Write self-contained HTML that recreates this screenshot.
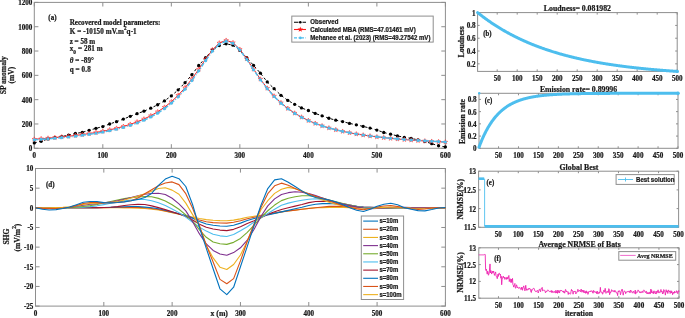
<!DOCTYPE html><html><head><meta charset="utf-8"><style>html,body{margin:0;padding:0;background:#fff;}text{-webkit-font-smoothing:antialiased;}svg{display:block;will-change:transform;}</style></head><body>
<svg width="685" height="318" viewBox="0 0 685 318">
<rect width="685" height="318" fill="#fff"/>
<rect x="34.3" y="2.4" width="411.1" height="145.9" fill="none" stroke="#8e8e8e" stroke-width="1"/>
<path d="M34.3 148.3v-4.1M34.3 2.4v4.1M102.82 148.3v-4.1M102.82 2.4v4.1M171.33 148.3v-4.1M171.33 2.4v4.1M239.85 148.3v-4.1M239.85 2.4v4.1M308.37 148.3v-4.1M308.37 2.4v4.1M376.88 148.3v-4.1M376.88 2.4v4.1M445.4 148.3v-4.1M445.4 2.4v4.1M34.3 148.3h4.1M445.4 148.3h-4.1M34.3 123.98h4.1M445.4 123.98h-4.1M34.3 99.67h4.1M445.4 99.67h-4.1M34.3 75.35h4.1M445.4 75.35h-4.1M34.3 51.03h4.1M445.4 51.03h-4.1M34.3 26.72h4.1M445.4 26.72h-4.1M34.3 2.4h4.1M445.4 2.4h-4.1" stroke="#8e8e8e" stroke-width="1" fill="none"/>
<text transform="translate(34.3 157.69) scale(1 1.08)" font-family='"Liberation Serif", serif' font-size="7.1" font-weight="bold" text-anchor="middle" fill="#1a1a1a" stroke="#1a1a1a" stroke-width="0.22">0</text>
<text transform="translate(102.82 157.69) scale(1 1.08)" font-family='"Liberation Serif", serif' font-size="7.1" font-weight="bold" text-anchor="middle" fill="#1a1a1a" stroke="#1a1a1a" stroke-width="0.22">100</text>
<text transform="translate(171.33 157.69) scale(1 1.08)" font-family='"Liberation Serif", serif' font-size="7.1" font-weight="bold" text-anchor="middle" fill="#1a1a1a" stroke="#1a1a1a" stroke-width="0.22">200</text>
<text transform="translate(239.85 157.69) scale(1 1.08)" font-family='"Liberation Serif", serif' font-size="7.1" font-weight="bold" text-anchor="middle" fill="#1a1a1a" stroke="#1a1a1a" stroke-width="0.22">300</text>
<text transform="translate(308.37 157.69) scale(1 1.08)" font-family='"Liberation Serif", serif' font-size="7.1" font-weight="bold" text-anchor="middle" fill="#1a1a1a" stroke="#1a1a1a" stroke-width="0.22">400</text>
<text transform="translate(376.88 157.69) scale(1 1.08)" font-family='"Liberation Serif", serif' font-size="7.1" font-weight="bold" text-anchor="middle" fill="#1a1a1a" stroke="#1a1a1a" stroke-width="0.22">500</text>
<text transform="translate(445.4 157.69) scale(1 1.08)" font-family='"Liberation Serif", serif' font-size="7.1" font-weight="bold" text-anchor="middle" fill="#1a1a1a" stroke="#1a1a1a" stroke-width="0.22">600</text>
<text transform="translate(32.4 151.29) scale(1 1.08)" font-family='"Liberation Serif", serif' font-size="7.1" font-weight="bold" text-anchor="end" fill="#1a1a1a" stroke="#1a1a1a" stroke-width="0.22">0</text>
<text transform="translate(32.4 126.98) scale(1 1.08)" font-family='"Liberation Serif", serif' font-size="7.1" font-weight="bold" text-anchor="end" fill="#1a1a1a" stroke="#1a1a1a" stroke-width="0.22">200</text>
<text transform="translate(32.4 102.66) scale(1 1.08)" font-family='"Liberation Serif", serif' font-size="7.1" font-weight="bold" text-anchor="end" fill="#1a1a1a" stroke="#1a1a1a" stroke-width="0.22">400</text>
<text transform="translate(32.4 78.34) scale(1 1.08)" font-family='"Liberation Serif", serif' font-size="7.1" font-weight="bold" text-anchor="end" fill="#1a1a1a" stroke="#1a1a1a" stroke-width="0.22">600</text>
<text transform="translate(32.4 54.03) scale(1 1.08)" font-family='"Liberation Serif", serif' font-size="7.1" font-weight="bold" text-anchor="end" fill="#1a1a1a" stroke="#1a1a1a" stroke-width="0.22">800</text>
<text transform="translate(32.4 29.71) scale(1 1.08)" font-family='"Liberation Serif", serif' font-size="7.1" font-weight="bold" text-anchor="end" fill="#1a1a1a" stroke="#1a1a1a" stroke-width="0.22">1000</text>
<text transform="translate(32.4 5.39) scale(1 1.08)" font-family='"Liberation Serif", serif' font-size="7.1" font-weight="bold" text-anchor="end" fill="#1a1a1a" stroke="#1a1a1a" stroke-width="0.22">1200</text>
<polyline points="34.3,142.95 41.15,141.25 48,138.94 54.85,137.6 61.71,136.63 68.56,135.05 75.41,133.47 82.26,132.37 89.11,130.31 95.96,128.36 102.82,126.54 109.67,123.98 116.52,121.67 123.37,119.12 130.22,116.32 137.07,113.65 143.93,111.22 150.78,108.18 157.63,104.77 164.48,100.88 171.33,95.9 178.19,89.82 185.04,82.65 191.89,74.74 198.74,65.5 205.59,57.72 212.44,49.94 219.29,45.56 226.15,43.86 233,45.2 239.85,50.43 246.7,57.72 253.55,65.38 260.4,73.16 267.26,81.92 274.11,88.72 280.96,95.29 287.81,100.4 294.66,104.29 301.51,107.93 308.37,110.49 315.22,113.41 322.07,115.84 328.92,118.27 335.77,120.21 342.62,121.55 349.48,123.38 356.33,124.83 363.18,126.42 370.03,128.12 376.88,130.06 383.73,132.49 390.59,134.2 397.44,135.9 404.29,137.36 411.14,138.33 417.99,139.91 424.84,141.49 431.7,143.68 438.55,145.75 445.4,146.96" fill="none" stroke="#000" stroke-width="1" stroke-dasharray="2.5 2.5"/>
<g fill="#000"><circle cx="34.3" cy="142.95" r="1.65"/><circle cx="41.15" cy="141.25" r="1.65"/><circle cx="48" cy="138.94" r="1.65"/><circle cx="54.85" cy="137.6" r="1.65"/><circle cx="61.71" cy="136.63" r="1.65"/><circle cx="68.56" cy="135.05" r="1.65"/><circle cx="75.41" cy="133.47" r="1.65"/><circle cx="82.26" cy="132.37" r="1.65"/><circle cx="89.11" cy="130.31" r="1.65"/><circle cx="95.96" cy="128.36" r="1.65"/><circle cx="102.82" cy="126.54" r="1.65"/><circle cx="109.67" cy="123.98" r="1.65"/><circle cx="116.52" cy="121.67" r="1.65"/><circle cx="123.37" cy="119.12" r="1.65"/><circle cx="130.22" cy="116.32" r="1.65"/><circle cx="137.07" cy="113.65" r="1.65"/><circle cx="143.93" cy="111.22" r="1.65"/><circle cx="150.78" cy="108.18" r="1.65"/><circle cx="157.63" cy="104.77" r="1.65"/><circle cx="164.48" cy="100.88" r="1.65"/><circle cx="171.33" cy="95.9" r="1.65"/><circle cx="178.19" cy="89.82" r="1.65"/><circle cx="185.04" cy="82.65" r="1.65"/><circle cx="191.89" cy="74.74" r="1.65"/><circle cx="198.74" cy="65.5" r="1.65"/><circle cx="205.59" cy="57.72" r="1.65"/><circle cx="212.44" cy="49.94" r="1.65"/><circle cx="219.29" cy="45.56" r="1.65"/><circle cx="226.15" cy="43.86" r="1.65"/><circle cx="233" cy="45.2" r="1.65"/><circle cx="239.85" cy="50.43" r="1.65"/><circle cx="246.7" cy="57.72" r="1.65"/><circle cx="253.55" cy="65.38" r="1.65"/><circle cx="260.4" cy="73.16" r="1.65"/><circle cx="267.26" cy="81.92" r="1.65"/><circle cx="274.11" cy="88.72" r="1.65"/><circle cx="280.96" cy="95.29" r="1.65"/><circle cx="287.81" cy="100.4" r="1.65"/><circle cx="294.66" cy="104.29" r="1.65"/><circle cx="301.51" cy="107.93" r="1.65"/><circle cx="308.37" cy="110.49" r="1.65"/><circle cx="315.22" cy="113.41" r="1.65"/><circle cx="322.07" cy="115.84" r="1.65"/><circle cx="328.92" cy="118.27" r="1.65"/><circle cx="335.77" cy="120.21" r="1.65"/><circle cx="342.62" cy="121.55" r="1.65"/><circle cx="349.48" cy="123.38" r="1.65"/><circle cx="356.33" cy="124.83" r="1.65"/><circle cx="363.18" cy="126.42" r="1.65"/><circle cx="370.03" cy="128.12" r="1.65"/><circle cx="376.88" cy="130.06" r="1.65"/><circle cx="383.73" cy="132.49" r="1.65"/><circle cx="390.59" cy="134.2" r="1.65"/><circle cx="397.44" cy="135.9" r="1.65"/><circle cx="404.29" cy="137.36" r="1.65"/><circle cx="411.14" cy="138.33" r="1.65"/><circle cx="417.99" cy="139.91" r="1.65"/><circle cx="424.84" cy="141.49" r="1.65"/><circle cx="431.7" cy="143.68" r="1.65"/><circle cx="438.55" cy="145.75" r="1.65"/><circle cx="445.4" cy="146.96" r="1.65"/></g>
<polyline points="34.3,139.23 41.15,138.74 48,138.2 54.85,137.61 61.71,136.97 68.56,136.25 75.41,135.46 82.26,134.58 89.11,133.6 95.96,132.5 102.82,131.26 109.67,129.86 116.52,128.26 123.37,126.43 130.22,124.33 137.07,121.9 143.93,119.06 150.78,115.75 157.63,111.84 164.48,107.23 171.33,101.77 178.19,95.3 185.04,87.72 191.89,78.98 198.74,69.28 205.59,59.19 212.44,49.86 219.29,43.01 226.15,40.34 233,42.67 239.85,49.37 246.7,58.79 253.55,69.14 260.4,79.18 267.26,88.23 274.11,96.09 280.96,102.77 287.81,108.41 294.66,113.14 301.51,117.13 308.37,120.51 315.22,123.38 322.07,125.83 328.92,127.95 335.77,129.77 342.62,131.37 349.48,132.76 356.33,133.99 363.18,135.08 370.03,136.04 376.88,136.9 383.73,137.67 390.59,138.37 397.44,139 404.29,139.57 411.14,140.08 417.99,140.56 424.84,140.99 431.7,141.38 438.55,141.75 445.4,142.08" fill="none" stroke="#ff1a1a" stroke-width="1"/>
<g fill="none" stroke="#ff3030" stroke-width="0.6"><polygon points="34.3,136.83 34.86,138.45 36.58,138.49 35.21,139.53 35.71,141.17 34.3,140.19 32.89,141.17 33.39,139.53 32.02,138.49 33.74,138.45"/><polygon points="41.15,136.34 41.72,137.96 43.43,138 42.06,139.04 42.56,140.68 41.15,139.7 39.74,140.68 40.24,139.04 38.87,138 40.59,137.96"/><polygon points="48,135.8 48.57,137.43 50.29,137.46 48.92,138.5 49.41,140.15 48,139.16 46.59,140.15 47.09,138.5 45.72,137.46 47.44,137.43"/><polygon points="54.85,135.21 55.42,136.84 57.14,136.87 55.77,137.91 56.27,139.56 54.85,138.57 53.44,139.56 53.94,137.91 52.57,136.87 54.29,136.84"/><polygon points="61.71,134.57 62.27,136.19 63.99,136.23 62.62,137.26 63.12,138.91 61.71,137.93 60.3,138.91 60.79,137.26 59.42,136.23 61.14,136.19"/><polygon points="68.56,133.85 69.12,135.48 70.84,135.51 69.47,136.55 69.97,138.19 68.56,137.21 67.15,138.19 67.65,136.55 66.28,135.51 67.99,135.48"/><polygon points="75.41,133.06 75.97,134.69 77.69,134.72 76.32,135.76 76.82,137.4 75.41,136.42 74,137.4 74.5,135.76 73.13,134.72 74.85,134.69"/><polygon points="82.26,132.18 82.83,133.81 84.54,133.84 83.17,134.88 83.67,136.52 82.26,135.54 80.85,136.52 81.35,134.88 79.98,133.84 81.7,133.81"/><polygon points="89.11,131.2 89.68,132.82 91.4,132.86 90.03,133.9 90.52,135.54 89.11,134.56 87.7,135.54 88.2,133.9 86.83,132.86 88.55,132.82"/><polygon points="95.96,130.1 96.53,131.72 98.25,131.76 96.88,132.8 97.38,134.44 95.96,133.46 94.55,134.44 95.05,132.8 93.68,131.76 95.4,131.72"/><polygon points="102.82,128.86 103.38,130.48 105.1,130.52 103.73,131.56 104.23,133.2 102.82,132.22 101.41,133.2 101.9,131.56 100.53,130.52 102.25,130.48"/><polygon points="109.67,127.46 110.23,129.08 111.95,129.11 110.58,130.15 111.08,131.8 109.67,130.82 108.26,131.8 108.76,130.15 107.39,129.11 109.1,129.08"/><polygon points="116.52,125.86 117.08,127.48 118.8,127.52 117.43,128.55 117.93,130.2 116.52,129.22 115.11,130.2 115.61,128.55 114.24,127.52 115.96,127.48"/><polygon points="123.37,124.03 123.94,125.65 125.65,125.69 124.28,126.73 124.78,128.37 123.37,127.39 121.96,128.37 122.46,126.73 121.09,125.69 122.81,125.65"/><polygon points="130.22,121.93 130.79,123.55 132.51,123.59 131.14,124.63 131.63,126.27 130.22,125.29 128.81,126.27 129.31,124.63 127.94,123.59 129.66,123.55"/><polygon points="137.07,119.5 137.64,121.12 139.36,121.15 137.99,122.19 138.49,123.84 137.07,122.86 135.66,123.84 136.16,122.19 134.79,121.15 136.51,121.12"/><polygon points="143.93,116.66 144.49,118.29 146.21,118.32 144.84,119.36 145.34,121.01 143.93,120.02 142.52,121.01 143.01,119.36 141.64,118.32 143.36,118.29"/><polygon points="150.78,113.35 151.34,114.97 153.06,115.01 151.69,116.04 152.19,117.69 150.78,116.71 149.37,117.69 149.87,116.04 148.5,115.01 150.21,114.97"/><polygon points="157.63,109.44 158.19,111.07 159.91,111.1 158.54,112.14 159.04,113.79 157.63,112.8 156.22,113.79 156.72,112.14 155.35,111.1 157.07,111.07"/><polygon points="164.48,104.83 165.05,106.45 166.76,106.49 165.39,107.53 165.89,109.17 164.48,108.19 163.07,109.17 163.57,107.53 162.2,106.49 163.92,106.45"/><polygon points="171.33,99.37 171.9,100.99 173.62,101.02 172.25,102.06 172.74,103.71 171.33,102.73 169.92,103.71 170.42,102.06 169.05,101.02 170.77,100.99"/><polygon points="178.19,92.9 178.75,94.53 180.47,94.56 179.1,95.6 179.6,97.24 178.19,96.26 176.77,97.24 177.27,95.6 175.9,94.56 177.62,94.53"/><polygon points="185.04,85.32 185.6,86.94 187.32,86.98 185.95,88.02 186.45,89.66 185.04,88.68 183.63,89.66 184.12,88.02 182.75,86.98 184.47,86.94"/><polygon points="191.89,76.58 192.45,78.21 194.17,78.24 192.8,79.28 193.3,80.93 191.89,79.94 190.48,80.93 190.98,79.28 189.61,78.24 191.32,78.21"/><polygon points="198.74,66.88 199.3,68.5 201.02,68.54 199.65,69.58 200.15,71.22 198.74,70.24 197.33,71.22 197.83,69.58 196.46,68.54 198.18,68.5"/><polygon points="205.59,56.79 206.16,58.41 207.87,58.44 206.5,59.48 207,61.13 205.59,60.15 204.18,61.13 204.68,59.48 203.31,58.44 205.03,58.41"/><polygon points="212.44,47.46 213.01,49.09 214.73,49.12 213.36,50.16 213.85,51.81 212.44,50.82 211.03,51.81 211.53,50.16 210.16,49.12 211.88,49.09"/><polygon points="219.29,40.61 219.86,42.24 221.58,42.27 220.21,43.31 220.71,44.95 219.29,43.97 217.88,44.95 218.38,43.31 217.01,42.27 218.73,42.24"/><polygon points="226.15,37.94 226.71,39.57 228.43,39.6 227.06,40.64 227.56,42.29 226.15,41.3 224.74,42.29 225.23,40.64 223.86,39.6 225.58,39.57"/><polygon points="233,40.27 233.56,41.9 235.28,41.93 233.91,42.97 234.41,44.62 233,43.63 231.59,44.62 232.09,42.97 230.72,41.93 232.43,41.9"/><polygon points="239.85,46.97 240.41,48.6 242.13,48.63 240.76,49.67 241.26,51.32 239.85,50.33 238.44,51.32 238.94,49.67 237.57,48.63 239.29,48.6"/><polygon points="246.7,56.39 247.27,58.01 248.98,58.05 247.61,59.08 248.11,60.73 246.7,59.75 245.29,60.73 245.79,59.08 244.42,58.05 246.14,58.01"/><polygon points="253.55,66.74 254.12,68.37 255.84,68.4 254.47,69.44 254.96,71.09 253.55,70.1 252.14,71.09 252.64,69.44 251.27,68.4 252.99,68.37"/><polygon points="260.4,76.78 260.97,78.4 262.69,78.44 261.32,79.48 261.82,81.12 260.4,80.14 258.99,81.12 259.49,79.48 258.12,78.44 259.84,78.4"/><polygon points="267.26,85.83 267.82,87.46 269.54,87.49 268.17,88.53 268.67,90.18 267.26,89.19 265.85,90.18 266.34,88.53 264.97,87.49 266.69,87.46"/><polygon points="274.11,93.69 274.67,95.32 276.39,95.35 275.02,96.39 275.52,98.03 274.11,97.05 272.7,98.03 273.2,96.39 271.83,95.35 273.54,95.32"/><polygon points="280.96,100.37 281.52,102 283.24,102.03 281.87,103.07 282.37,104.72 280.96,103.73 279.55,104.72 280.05,103.07 278.68,102.03 280.4,102"/><polygon points="287.81,106.01 288.38,107.63 290.09,107.66 288.72,108.7 289.22,110.35 287.81,109.37 286.4,110.35 286.9,108.7 285.53,107.66 287.25,107.63"/><polygon points="294.66,110.74 295.23,112.36 296.95,112.4 295.58,113.44 296.07,115.08 294.66,114.1 293.25,115.08 293.75,113.44 292.38,112.4 294.1,112.36"/><polygon points="301.51,114.73 302.08,116.35 303.8,116.39 302.43,117.43 302.93,119.07 301.51,118.09 300.1,119.07 300.6,117.43 299.23,116.39 300.95,116.35"/><polygon points="308.37,118.11 308.93,119.73 310.65,119.77 309.28,120.8 309.78,122.45 308.37,121.47 306.96,122.45 307.45,120.8 306.08,119.77 307.8,119.73"/><polygon points="315.22,120.98 315.78,122.6 317.5,122.64 316.13,123.67 316.63,125.32 315.22,124.34 313.81,125.32 314.31,123.67 312.94,122.64 314.65,122.6"/><polygon points="322.07,123.43 322.63,125.06 324.35,125.09 322.98,126.13 323.48,127.77 322.07,126.79 320.66,127.77 321.16,126.13 319.79,125.09 321.51,125.06"/><polygon points="328.92,125.55 329.49,127.17 331.2,127.2 329.83,128.24 330.33,129.89 328.92,128.91 327.51,129.89 328.01,128.24 326.64,127.2 328.36,127.17"/><polygon points="335.77,127.37 336.34,129 338.06,129.03 336.69,130.07 337.18,131.72 335.77,130.73 334.36,131.72 334.86,130.07 333.49,129.03 335.21,129"/><polygon points="342.62,128.97 343.19,130.59 344.91,130.63 343.54,131.66 344.04,133.31 342.62,132.33 341.21,133.31 341.71,131.66 340.34,130.63 342.06,130.59"/><polygon points="349.48,130.36 350.04,131.99 351.76,132.02 350.39,133.06 350.89,134.7 349.48,133.72 348.07,134.7 348.56,133.06 347.19,132.02 348.91,131.99"/><polygon points="356.33,131.59 356.89,133.21 358.61,133.25 357.24,134.29 357.74,135.93 356.33,134.95 354.92,135.93 355.42,134.29 354.05,133.25 355.76,133.21"/><polygon points="363.18,132.68 363.74,134.3 365.46,134.33 364.09,135.37 364.59,137.02 363.18,136.04 361.77,137.02 362.27,135.37 360.9,134.33 362.62,134.3"/><polygon points="370.03,133.64 370.6,135.26 372.31,135.3 370.94,136.34 371.44,137.98 370.03,137 368.62,137.98 369.12,136.34 367.75,135.3 369.47,135.26"/><polygon points="376.88,134.5 377.45,136.13 379.17,136.16 377.8,137.2 378.29,138.84 376.88,137.86 375.47,138.84 375.97,137.2 374.6,136.16 376.32,136.13"/><polygon points="383.73,135.27 384.3,136.9 386.02,136.93 384.65,137.97 385.15,139.62 383.73,138.63 382.32,139.62 382.82,137.97 381.45,136.93 383.17,136.9"/><polygon points="390.59,135.97 391.15,137.59 392.87,137.63 391.5,138.67 392,140.31 390.59,139.33 389.18,140.31 389.67,138.67 388.3,137.63 390.02,137.59"/><polygon points="397.44,136.6 398,138.22 399.72,138.26 398.35,139.29 398.85,140.94 397.44,139.96 396.03,140.94 396.53,139.29 395.16,138.26 396.87,138.22"/><polygon points="404.29,137.17 404.85,138.79 406.57,138.83 405.2,139.86 405.7,141.51 404.29,140.53 402.88,141.51 403.38,139.86 402.01,138.83 403.73,138.79"/><polygon points="411.14,137.68 411.71,139.31 413.42,139.34 412.05,140.38 412.55,142.03 411.14,141.04 409.73,142.03 410.23,140.38 408.86,139.34 410.58,139.31"/><polygon points="417.99,138.16 418.56,139.78 420.28,139.81 418.91,140.85 419.4,142.5 417.99,141.52 416.58,142.5 417.08,140.85 415.71,139.81 417.43,139.78"/><polygon points="424.84,138.59 425.41,140.21 427.13,140.25 425.76,141.28 426.26,142.93 424.84,141.95 423.43,142.93 423.93,141.28 422.56,140.25 424.28,140.21"/><polygon points="431.7,138.98 432.26,140.61 433.98,140.64 432.61,141.68 433.11,143.33 431.7,142.34 430.29,143.33 430.78,141.68 429.41,140.64 431.13,140.61"/><polygon points="438.55,139.35 439.11,140.97 440.83,141.01 439.46,142.05 439.96,143.69 438.55,142.71 437.14,143.69 437.64,142.05 436.27,141.01 437.98,140.97"/><polygon points="445.4,139.68 445.96,141.31 447.68,141.34 446.31,142.38 446.81,144.03 445.4,143.04 443.99,144.03 444.49,142.38 443.12,141.34 444.84,141.31"/></g>
<polyline points="34.3,139.81 41.15,139.33 48,138.82 54.85,138.25 61.71,137.63 68.56,136.94 75.41,136.17 82.26,135.32 89.11,134.37 95.96,133.31 102.82,132.11 109.67,130.74 116.52,129.19 123.37,127.42 130.22,125.37 137.07,123 143.93,120.23 150.78,116.99 157.63,113.16 164.48,108.63 171.33,103.24 178.19,96.85 185.04,89.32 191.89,80.6 198.74,70.85 205.59,60.64 212.44,51.12 219.29,44.04 226.15,41.17 233,43.37 239.85,50.02 246.7,59.42 253.55,69.75 260.4,79.75 267.26,88.75 274.11,96.54 280.96,103.15 287.81,108.71 294.66,113.38 301.51,117.32 308.37,120.65 315.22,123.48 322.07,125.89 328.92,127.98 335.77,129.78 342.62,131.35 349.48,132.72 356.33,133.93 363.18,135 370.03,135.95 376.88,136.8 383.73,137.57 390.59,138.25 397.44,138.87 404.29,139.44 411.14,139.95 417.99,140.41 424.84,140.84 431.7,141.23 438.55,141.6 445.4,141.93" fill="none" stroke="#4dbeee" stroke-width="1.5" stroke-dasharray="4 1.5 1 1.5"/>
<g fill="#4dbeee"><circle cx="34.3" cy="139.81" r="1.55"/><circle cx="41.15" cy="139.33" r="1.55"/><circle cx="48" cy="138.82" r="1.55"/><circle cx="54.85" cy="138.25" r="1.55"/><circle cx="61.71" cy="137.63" r="1.55"/><circle cx="68.56" cy="136.94" r="1.55"/><circle cx="75.41" cy="136.17" r="1.55"/><circle cx="82.26" cy="135.32" r="1.55"/><circle cx="89.11" cy="134.37" r="1.55"/><circle cx="95.96" cy="133.31" r="1.55"/><circle cx="102.82" cy="132.11" r="1.55"/><circle cx="109.67" cy="130.74" r="1.55"/><circle cx="116.52" cy="129.19" r="1.55"/><circle cx="123.37" cy="127.42" r="1.55"/><circle cx="130.22" cy="125.37" r="1.55"/><circle cx="137.07" cy="123" r="1.55"/><circle cx="143.93" cy="120.23" r="1.55"/><circle cx="150.78" cy="116.99" r="1.55"/><circle cx="157.63" cy="113.16" r="1.55"/><circle cx="164.48" cy="108.63" r="1.55"/><circle cx="171.33" cy="103.24" r="1.55"/><circle cx="178.19" cy="96.85" r="1.55"/><circle cx="185.04" cy="89.32" r="1.55"/><circle cx="191.89" cy="80.6" r="1.55"/><circle cx="198.74" cy="70.85" r="1.55"/><circle cx="205.59" cy="60.64" r="1.55"/><circle cx="212.44" cy="51.12" r="1.55"/><circle cx="219.29" cy="44.04" r="1.55"/><circle cx="226.15" cy="41.17" r="1.55"/><circle cx="233" cy="43.37" r="1.55"/><circle cx="239.85" cy="50.02" r="1.55"/><circle cx="246.7" cy="59.42" r="1.55"/><circle cx="253.55" cy="69.75" r="1.55"/><circle cx="260.4" cy="79.75" r="1.55"/><circle cx="267.26" cy="88.75" r="1.55"/><circle cx="274.11" cy="96.54" r="1.55"/><circle cx="280.96" cy="103.15" r="1.55"/><circle cx="287.81" cy="108.71" r="1.55"/><circle cx="294.66" cy="113.38" r="1.55"/><circle cx="301.51" cy="117.32" r="1.55"/><circle cx="308.37" cy="120.65" r="1.55"/><circle cx="315.22" cy="123.48" r="1.55"/><circle cx="322.07" cy="125.89" r="1.55"/><circle cx="328.92" cy="127.98" r="1.55"/><circle cx="335.77" cy="129.78" r="1.55"/><circle cx="342.62" cy="131.35" r="1.55"/><circle cx="349.48" cy="132.72" r="1.55"/><circle cx="356.33" cy="133.93" r="1.55"/><circle cx="363.18" cy="135" r="1.55"/><circle cx="370.03" cy="135.95" r="1.55"/><circle cx="376.88" cy="136.8" r="1.55"/><circle cx="383.73" cy="137.57" r="1.55"/><circle cx="390.59" cy="138.25" r="1.55"/><circle cx="397.44" cy="138.87" r="1.55"/><circle cx="404.29" cy="139.44" r="1.55"/><circle cx="411.14" cy="139.95" r="1.55"/><circle cx="417.99" cy="140.41" r="1.55"/><circle cx="424.84" cy="140.84" r="1.55"/><circle cx="431.7" cy="141.23" r="1.55"/><circle cx="438.55" cy="141.6" r="1.55"/><circle cx="445.4" cy="141.93" r="1.55"/></g>
<text transform="translate(48.3 20.3) scale(1 1.06)" font-family='"Liberation Serif", serif' font-size="7.1" font-weight="bold" text-anchor="start" fill="#1a1a1a" stroke="#1a1a1a" stroke-width="0.22">(a)</text>
<text transform="translate(69.7 24.6) scale(1 1.06)" font-family='"Liberation Serif", serif' font-size="7.1" font-weight="bold" text-anchor="start" fill="#1a1a1a" stroke="#1a1a1a" stroke-width="0.22">Recovered model parameters:</text>
<text transform="translate(69.7 33.8) scale(1 1.06)" font-family='"Liberation Serif", serif' font-size="7.1" font-weight="bold" text-anchor="start" fill="#1a1a1a" stroke="#1a1a1a" stroke-width="0.22" letter-spacing="0.1">K = -10150 mV.m<tspan font-size="5.2" dy="-3.3">2</tspan><tspan dy="3.3">q-1</tspan></text>
<text transform="translate(69.7 44) scale(1 1.06)" font-family='"Liberation Serif", serif' font-size="7.1" font-weight="bold" text-anchor="start" fill="#1a1a1a" stroke="#1a1a1a" stroke-width="0.22">z = 58 m</text>
<text transform="translate(69.7 51.3) scale(1 1.06)" font-family='"Liberation Serif", serif' font-size="7.1" font-weight="bold" text-anchor="start" fill="#1a1a1a" stroke="#1a1a1a" stroke-width="0.22" letter-spacing="0.1">x<tspan font-size="5.4" dy="2.6">0</tspan><tspan dy="-2.6"> = 281 m</tspan></text>
<text transform="translate(69.7 62.8) scale(1 1.06)" font-family='"Liberation Serif", serif' font-size="7.1" font-weight="bold" text-anchor="start" fill="#1a1a1a" stroke="#1a1a1a" stroke-width="0.22" letter-spacing="0.1"><tspan font-style="italic">θ</tspan> = -89°</text>
<text transform="translate(69.7 71.5) scale(1 1.06)" font-family='"Liberation Serif", serif' font-size="7.1" font-weight="bold" text-anchor="start" fill="#1a1a1a" stroke="#1a1a1a" stroke-width="0.22" letter-spacing="0.1">q = 0.8</text>
<rect x="291.8" y="16.1" width="141.4" height="26" fill="#fff" stroke="#8e8e8e" stroke-width="1"/>
<path d="M294 22.2h4.5M302.5 22.2h3.5" stroke="#000" stroke-width="1.1"/>
<circle cx="300.3" cy="22.2" r="1.3" fill="#000"/>
<path d="M294 29.5h12" stroke="#ff1a1a" stroke-width="1.1"/>
<g fill="#ff1a1a"><polygon points="300.3,26.6 300.98,28.56 303.06,28.6 301.4,29.86 302,31.85 300.3,30.66 298.6,31.85 299.2,29.86 297.54,28.6 299.62,28.56"/></g>
<path d="M294 37.9h12" stroke="#4dbeee" stroke-width="1.1" stroke-dasharray="3 1.5 1 1.5"/>
<circle cx="300.3" cy="37.9" r="1.3" fill="#4dbeee"/>
<text transform="translate(310.3 24.4) scale(1 1.06)" font-family='"Liberation Sans", sans-serif' font-size="6.1" font-weight="bold" text-anchor="start" fill="#1a1a1a" stroke="#1a1a1a" stroke-width="0.22">Observed</text>
<text transform="translate(310.3 31.7) scale(1 1.06)" font-family='"Liberation Sans", sans-serif' font-size="6.1" font-weight="bold" text-anchor="start" fill="#1a1a1a" stroke="#1a1a1a" stroke-width="0.22">Calculated MBA (RMS=47.01461 mV)</text>
<text transform="translate(310.3 40.1) scale(1 1.06)" font-family='"Liberation Sans", sans-serif' font-size="6.1" font-weight="bold" text-anchor="start" fill="#1a1a1a" stroke="#1a1a1a" stroke-width="0.22">Mehanee et al. (2023) (RMS=49.27542 mV)</text>
<text transform="translate(6.4 75.2) rotate(-90) scale(1 1.08)" font-family='"Liberation Serif", serif' font-size="7.6" font-weight="bold" text-anchor="middle" fill="#1a1a1a" stroke="#1a1a1a" stroke-width="0.22">SP anomaly</text>
<text transform="translate(13.6 75.2) rotate(-90) scale(1 1.08)" font-family='"Liberation Serif", serif' font-size="7.6" font-weight="bold" text-anchor="middle" fill="#1a1a1a" stroke="#1a1a1a" stroke-width="0.22">(mV)</text>
<rect x="35.5" y="168.5" width="409.9" height="137.6" fill="none" stroke="#8e8e8e" stroke-width="1"/>
<path d="M35.5 306.1v-4.1M35.5 168.5v4.1M103.82 306.1v-4.1M103.82 168.5v4.1M172.13 306.1v-4.1M172.13 168.5v4.1M240.45 306.1v-4.1M240.45 168.5v4.1M308.77 306.1v-4.1M308.77 168.5v4.1M377.08 306.1v-4.1M377.08 168.5v4.1M445.4 306.1v-4.1M445.4 168.5v4.1M35.5 306.1h4.1M445.4 306.1h-4.1M35.5 286.44h4.1M445.4 286.44h-4.1M35.5 266.79h4.1M445.4 266.79h-4.1M35.5 247.13h4.1M445.4 247.13h-4.1M35.5 227.47h4.1M445.4 227.47h-4.1M35.5 207.81h4.1M445.4 207.81h-4.1M35.5 188.16h4.1M445.4 188.16h-4.1M35.5 168.5h4.1M445.4 168.5h-4.1" stroke="#8e8e8e" stroke-width="1" fill="none"/>
<text transform="translate(35.5 315.89) scale(1 1.08)" font-family='"Liberation Serif", serif' font-size="7.1" font-weight="bold" text-anchor="middle" fill="#1a1a1a" stroke="#1a1a1a" stroke-width="0.22">0</text>
<text transform="translate(103.82 315.89) scale(1 1.08)" font-family='"Liberation Serif", serif' font-size="7.1" font-weight="bold" text-anchor="middle" fill="#1a1a1a" stroke="#1a1a1a" stroke-width="0.22">100</text>
<text transform="translate(172.13 315.89) scale(1 1.08)" font-family='"Liberation Serif", serif' font-size="7.1" font-weight="bold" text-anchor="middle" fill="#1a1a1a" stroke="#1a1a1a" stroke-width="0.22">200</text>
<text transform="translate(240.45 315.89) scale(1 1.08)" font-family='"Liberation Serif", serif' font-size="7.1" font-weight="bold" text-anchor="middle" fill="#1a1a1a" stroke="#1a1a1a" stroke-width="0.22">300</text>
<text transform="translate(308.77 315.89) scale(1 1.08)" font-family='"Liberation Serif", serif' font-size="7.1" font-weight="bold" text-anchor="middle" fill="#1a1a1a" stroke="#1a1a1a" stroke-width="0.22">400</text>
<text transform="translate(377.08 315.89) scale(1 1.08)" font-family='"Liberation Serif", serif' font-size="7.1" font-weight="bold" text-anchor="middle" fill="#1a1a1a" stroke="#1a1a1a" stroke-width="0.22">500</text>
<text transform="translate(445.4 315.89) scale(1 1.08)" font-family='"Liberation Serif", serif' font-size="7.1" font-weight="bold" text-anchor="middle" fill="#1a1a1a" stroke="#1a1a1a" stroke-width="0.22">600</text>
<text transform="translate(33.4 309.09) scale(1 1.08)" font-family='"Liberation Serif", serif' font-size="7.1" font-weight="bold" text-anchor="end" fill="#1a1a1a" stroke="#1a1a1a" stroke-width="0.22">-25</text>
<text transform="translate(33.4 289.43) scale(1 1.08)" font-family='"Liberation Serif", serif' font-size="7.1" font-weight="bold" text-anchor="end" fill="#1a1a1a" stroke="#1a1a1a" stroke-width="0.22">-20</text>
<text transform="translate(33.4 269.78) scale(1 1.08)" font-family='"Liberation Serif", serif' font-size="7.1" font-weight="bold" text-anchor="end" fill="#1a1a1a" stroke="#1a1a1a" stroke-width="0.22">-15</text>
<text transform="translate(33.4 250.12) scale(1 1.08)" font-family='"Liberation Serif", serif' font-size="7.1" font-weight="bold" text-anchor="end" fill="#1a1a1a" stroke="#1a1a1a" stroke-width="0.22">-10</text>
<text transform="translate(33.4 230.46) scale(1 1.08)" font-family='"Liberation Serif", serif' font-size="7.1" font-weight="bold" text-anchor="end" fill="#1a1a1a" stroke="#1a1a1a" stroke-width="0.22">-5</text>
<text transform="translate(33.4 210.81) scale(1 1.08)" font-family='"Liberation Serif", serif' font-size="7.1" font-weight="bold" text-anchor="end" fill="#1a1a1a" stroke="#1a1a1a" stroke-width="0.22">0</text>
<text transform="translate(33.4 191.15) scale(1 1.08)" font-family='"Liberation Serif", serif' font-size="7.1" font-weight="bold" text-anchor="end" fill="#1a1a1a" stroke="#1a1a1a" stroke-width="0.22">5</text>
<text transform="translate(33.4 171.49) scale(1 1.08)" font-family='"Liberation Serif", serif' font-size="7.1" font-weight="bold" text-anchor="end" fill="#1a1a1a" stroke="#1a1a1a" stroke-width="0.22">10</text>
<text transform="translate(219.2 316.4) scale(1 1.06)" font-family='"Liberation Serif", serif' font-size="7.8" font-weight="bold" text-anchor="middle" fill="#1a1a1a" stroke="#1a1a1a" stroke-width="0.22">x (m)</text>
<text transform="translate(9.2 236.6) rotate(-90) scale(1 1.08)" font-family='"Liberation Serif", serif' font-size="7.6" font-weight="bold" text-anchor="middle" fill="#1a1a1a" stroke="#1a1a1a" stroke-width="0.22">SHG</text>
<text transform="translate(20 237.6) rotate(-90) scale(1 1.08)" font-family='"Liberation Serif", serif' font-size="7.6" font-weight="bold" text-anchor="middle" fill="#1a1a1a" stroke="#1a1a1a" stroke-width="0.22">(mV/m<tspan font-size="5.4" dy="-3.3">2</tspan><tspan dy="3.3">)</tspan></text>
<text transform="translate(46 187) scale(1 1.06)" font-family='"Liberation Serif", serif' font-size="7.1" font-weight="bold" text-anchor="start" fill="#1a1a1a" stroke="#1a1a1a" stroke-width="0.22">(d)</text>
<g stroke-width="1.1" fill="none" stroke-linejoin="round">
<polyline points="35.5,207.81 42.33,207.81 49.16,207.81 56,207.81 62.83,207.81 69.66,207.81 76.49,207.81 83.32,207.81 90.15,207.81 96.98,207.81 103.82,207.81 110.65,207.81 117.48,207.81 124.31,207.87 131.14,208.01 137.97,208.21 144.81,208.57 151.64,209.19 158.47,209.99 165.3,211.24 172.13,212.83 178.96,214.3 185.8,215.79 192.63,217.03 199.46,218.44 206.29,219.61 213.12,220.25 219.95,220.61 226.79,220.79 233.62,220.15 240.45,218.85 247.28,217.26 254.11,216.18 260.94,215.18 267.78,214.23 274.61,213.11 281.44,211.85 288.27,210.91 295.1,210.1 301.94,209.3 308.77,208.36 315.6,207.79 322.43,207.6 329.26,207.47 336.09,207.42 342.92,207.48 349.76,207.62 356.59,207.75 363.42,207.81 370.25,207.81 377.08,207.81 383.91,207.81 390.75,207.81 397.58,207.81 404.41,207.81 411.24,207.81 418.07,207.81 424.9,207.81 431.74,207.81 438.57,207.81 445.4,207.81" fill="none" stroke="#edb120"/>
<polyline points="35.5,207.81 42.33,207.81 49.16,207.81 56,207.81 62.83,207.81 69.66,207.81 76.49,207.81 83.32,207.81 90.15,207.81 96.98,207.75 103.82,207.62 110.65,207.48 117.48,207.42 124.31,207.42 131.14,207.42 137.97,207.42 144.81,207.75 151.64,208.56 158.47,209.57 165.3,210.87 172.13,212.43 178.96,213.85 185.8,215.66 192.63,217.74 199.46,220.05 206.29,221.73 213.12,222.59 219.95,222.98 226.79,223.15 233.62,222.29 240.45,220.66 247.28,218.71 254.11,217.19 260.94,215.75 267.78,214.37 274.61,213.06 281.44,211.85 288.27,210.91 295.1,210.1 301.94,209.31 308.77,208.49 315.6,207.74 322.43,206.96 329.26,206.34 336.09,206.26 342.92,206.42 349.76,206.63 356.59,207.04 363.42,207.56 370.25,207.81 377.08,207.81 383.91,207.81 390.75,207.81 397.58,207.81 404.41,207.81 411.24,207.81 418.07,207.81 424.9,207.81 431.74,207.81 438.57,207.81 445.4,207.81" fill="none" stroke="#d95319"/>
<polyline points="35.5,207.81 42.33,207.81 49.16,207.81 56,207.81 62.83,207.81 69.66,207.81 76.49,207.81 83.32,207.81 90.15,207.81 96.98,207.73 103.82,207.53 110.65,207.27 117.48,207.03 124.31,206.74 131.14,206.48 137.97,206.53 144.81,207.09 151.64,207.79 158.47,208.76 165.3,210.27 172.13,212.09 178.96,213.78 185.8,215.64 192.63,218.14 199.46,221.42 206.29,223.95 213.12,225.22 219.95,225.94 226.79,226.29 233.62,225.23 240.45,223.12 247.28,220.52 254.11,218.57 260.94,216.72 267.78,214.93 274.61,213.34 281.44,211.9 288.27,210.37 295.1,208.82 301.94,207.26 308.77,205.47 315.6,204.2 322.43,203.59 329.26,203.57 336.09,204.04 342.92,204.67 349.76,205.47 356.59,206.4 363.42,207.03 370.25,207.33 377.08,207.58 383.91,207.75 390.75,207.81 397.58,207.81 404.41,207.81 411.24,207.81 418.07,207.81 424.9,207.81 431.74,207.81 438.57,207.81 445.4,207.81" fill="none" stroke="#0072bd"/>
<polyline points="35.5,207.81 42.33,207.81 49.16,207.81 56,207.81 62.83,207.81 69.66,207.81 76.49,207.81 83.32,207.79 90.15,207.71 96.98,207.62 103.82,207.49 110.65,207.28 117.48,206.62 124.31,205.47 131.14,204.78 137.97,204.35 144.81,204.53 151.64,205.85 158.47,207.62 165.3,209.64 172.13,211.78 178.96,213.92 185.8,216.61 192.63,220.06 199.46,224.19 206.29,227.34 213.12,229.04 219.95,230.08 226.79,230.62 233.62,229.35 240.45,226.78 247.28,223.44 254.11,220.65 260.94,217.64 267.78,214.35 274.61,211.7 281.44,209.58 288.27,207.75 295.1,206.11 301.94,204.5 308.77,202.61 315.6,201.48 322.43,201.18 329.26,201.33 336.09,202.53 342.92,203.88 349.76,205.1 356.59,206.3 363.42,207.03 370.25,207.34 377.08,207.59 383.91,207.76 390.75,207.81 397.58,207.81 404.41,207.81 411.24,207.81 418.07,207.81 424.9,207.81 431.74,207.81 438.57,207.81 445.4,207.81" fill="none" stroke="#a2142f"/>
<polyline points="35.5,207.81 42.33,207.81 49.16,207.81 56,207.81 62.83,207.81 69.66,207.72 76.49,207.46 83.32,207.09 90.15,206.63 96.98,205.83 103.82,204.6 110.65,203.33 117.48,202.13 124.31,200.9 131.14,199.95 137.97,199.29 144.81,199.45 151.64,200.78 158.47,202.82 165.3,205.55 172.13,208.9 178.96,212.64 185.8,217.11 192.63,222.19 199.46,227.1 206.29,231.11 213.12,234.27 219.95,235.83 226.79,236.51 233.62,234.56 240.45,230.78 247.28,226.71 254.11,222.07 260.94,217.71 267.78,213.43 274.61,209.19 281.44,205.32 288.27,203.11 295.1,201.45 301.94,200.24 308.77,199.21 315.6,198.78 322.43,199.52 329.26,200.74 336.09,202.11 342.92,203.69 349.76,205.06 356.59,206.27 363.42,207.35 370.25,207.81 377.08,207.81 383.91,207.81 390.75,207.81 397.58,207.81 404.41,207.81 411.24,207.81 418.07,207.81 424.9,207.81 431.74,207.81 438.57,207.81 445.4,207.81" fill="none" stroke="#4dbeee"/>
<polyline points="35.5,207.81 42.33,207.81 49.16,207.81 56,207.81 62.83,207.81 69.66,207.62 76.49,207.13 83.32,206.43 90.15,205.65 96.98,204.54 103.82,203.02 110.65,201.49 117.48,200.06 124.31,198.62 131.14,197.59 137.97,196.93 144.81,196.48 151.64,196.7 158.47,198.38 165.3,200.96 172.13,204.67 178.96,209.27 185.8,214.88 192.63,221.1 199.46,229.8 206.29,237.28 213.12,241.98 219.95,243.72 226.79,244.38 233.62,242.35 240.45,238.46 247.28,232.41 254.11,225.08 260.94,217.58 267.78,210.76 274.61,205.08 281.44,200.63 288.27,198.29 295.1,196.81 301.94,195.81 308.77,195.76 315.6,196.5 322.43,198.05 329.26,199.95 336.09,201.74 342.92,203.54 349.76,205.06 356.59,206.45 363.42,207.68 370.25,208.21 377.08,208.15 383.91,208.01 390.75,207.88 397.58,207.81 404.41,207.81 411.24,207.81 418.07,207.81 424.9,207.81 431.74,207.81 438.57,207.81 445.4,207.81" fill="none" stroke="#77ac30"/>
<polyline points="35.5,207.81 42.33,207.8 49.16,207.76 56,207.7 62.83,207.62 69.66,207.19 76.49,206.29 83.32,205.22 90.15,204.28 96.98,203.58 103.82,202.92 110.65,202.11 117.48,200.89 124.31,199.24 131.14,197.59 137.97,195.88 144.81,194.28 151.64,193.53 158.47,193.27 165.3,194.51 172.13,198.22 178.96,203.83 185.8,210.84 192.63,221.65 199.46,233.91 206.29,243.96 213.12,250.39 219.95,253.96 226.79,255.32 233.62,252.59 240.45,247.77 247.28,240.21 254.11,229.25 260.94,216.46 267.78,205.85 274.61,198.89 281.44,194.47 288.27,192.66 295.1,191.73 301.94,192.26 308.77,193.63 315.6,195.63 322.43,198 329.26,200.34 336.09,202.27 342.92,204 349.76,205.46 356.59,206.85 363.42,208.07 370.25,208.6 377.08,208.42 383.91,208.01 390.75,207.61 397.58,207.42 404.41,207.42 411.24,207.43 418.07,207.45 424.9,207.49 431.74,207.56 438.57,207.67 445.4,207.81" fill="none" stroke="#7e2f8e"/>
<polyline points="35.5,207.81 42.33,207.79 49.16,207.71 56,207.58 62.83,207.42 69.66,206.81 76.49,205.63 83.32,204.37 90.15,203.49 96.98,203.09 103.82,202.81 110.65,202.42 117.48,201.56 124.31,200 131.14,198.05 137.97,196.02 144.81,193.81 151.64,191.23 158.47,188.55 165.3,187.76 172.13,190.12 178.96,194.27 185.8,203.1 192.63,214.6 199.46,226.04 206.29,245.57 213.12,257.94 219.95,267.15 226.79,269.54 233.62,264.55 240.45,254.95 247.28,241.12 254.11,225.53 260.94,209.78 267.78,200.74 274.61,193.37 281.44,189.22 288.27,187.37 295.1,188.67 301.94,190.98 308.77,194.05 315.6,197.13 322.43,199.95 329.26,202.24 336.09,204.24 342.92,205.85 349.76,207.27 356.59,208.48 363.42,208.99 370.25,208.69 377.08,208.01 383.91,207.34 390.75,207.03 397.58,207.21 404.41,207.62 411.24,208.02 418.07,208.21 424.9,208.2 431.74,208.16 438.57,208.04 445.4,207.81" fill="none" stroke="#edb120"/>
<polyline points="35.5,207.81 42.33,208.36 49.16,208.59 56,208.48 62.83,208.07 69.66,207.32 76.49,205.46 83.32,203.45 90.15,202.51 96.98,202.55 103.82,202.64 110.65,202.7 117.48,202.51 124.31,201.8 131.14,200.74 137.97,198.08 144.81,193.8 151.64,189.74 158.47,185.71 165.3,183.07 172.13,181.9 178.96,184.62 185.8,193.66 192.63,208.31 199.46,226 206.29,245.16 213.12,262.07 219.95,279.37 226.79,283.69 233.62,278.58 240.45,260.89 247.28,241.23 254.11,223.74 260.94,207.48 267.78,193.66 274.61,185.8 281.44,183.14 288.27,185.28 295.1,188.45 301.94,191.49 308.77,193.94 315.6,196.25 322.43,198.5 329.26,200.74 336.09,203.21 342.92,205.63 349.76,207.48 356.59,208.87 363.42,209.77 370.25,208.57 377.08,207.03 383.91,206 390.75,205.46 397.58,206.42 404.41,207.81 411.24,208.73 418.07,209.34 424.9,209.01 431.74,208.02 438.57,207.81 445.4,207.81" fill="none" stroke="#d95319"/>
<polyline points="35.5,207.81 42.33,209.19 49.16,209.98 56,209.66 62.83,208.58 69.66,206.97 76.49,204.67 83.32,202.25 90.15,201.45 96.98,201.57 103.82,202.65 110.65,202.84 117.48,202.5 124.31,201.91 131.14,200.81 137.97,199.41 144.81,197.47 151.64,193.41 158.47,185.41 165.3,179.08 172.13,176.21 178.96,178.72 185.8,186.51 192.63,204.77 199.46,227.62 206.29,248.31 213.12,268.75 219.95,288.8 226.79,294.7 233.62,287.23 240.45,266.79 247.28,246.34 254.11,225.27 260.94,205.25 267.78,188.55 274.61,179.9 281.44,178.72 288.27,182.26 295.1,186.58 301.94,190.9 308.77,194.92 315.6,197.53 322.43,198.74 329.26,199.94 336.09,202.04 342.92,204.67 349.76,207.67 356.59,210.2 363.42,211.52 370.25,209.21 377.08,206.24 383.91,204.33 390.75,203.23 397.58,204.81 404.41,207.64 411.24,209.3 418.07,210.62 424.9,210.86 431.74,209.58 438.57,208.07 445.4,207.5" fill="none" stroke="#0072bd"/>
</g>
<rect x="361.3" y="216.0" width="42.3" height="83.5" fill="#fff" stroke="#8e8e8e" stroke-width="1"/>
<path d="M363.2 221.1h14.8" stroke="#0072bd" stroke-width="1.1"/>
<text transform="translate(379.4 223.3) scale(1 1.06)" font-family='"Liberation Sans", sans-serif' font-size="6.0" font-weight="bold" text-anchor="start" fill="#1a1a1a" stroke="#1a1a1a" stroke-width="0.22">s=10m</text>
<path d="M363.2 229.27h14.8" stroke="#d95319" stroke-width="1.1"/>
<text transform="translate(379.4 231.47) scale(1 1.06)" font-family='"Liberation Sans", sans-serif' font-size="6.0" font-weight="bold" text-anchor="start" fill="#1a1a1a" stroke="#1a1a1a" stroke-width="0.22">s=20m</text>
<path d="M363.2 237.44h14.8" stroke="#edb120" stroke-width="1.1"/>
<text transform="translate(379.4 239.64) scale(1 1.06)" font-family='"Liberation Sans", sans-serif' font-size="6.0" font-weight="bold" text-anchor="start" fill="#1a1a1a" stroke="#1a1a1a" stroke-width="0.22">s=30m</text>
<path d="M363.2 245.61h14.8" stroke="#7e2f8e" stroke-width="1.1"/>
<text transform="translate(379.4 247.81) scale(1 1.06)" font-family='"Liberation Sans", sans-serif' font-size="6.0" font-weight="bold" text-anchor="start" fill="#1a1a1a" stroke="#1a1a1a" stroke-width="0.22">s=40m</text>
<path d="M363.2 253.78h14.8" stroke="#77ac30" stroke-width="1.1"/>
<text transform="translate(379.4 255.98) scale(1 1.06)" font-family='"Liberation Sans", sans-serif' font-size="6.0" font-weight="bold" text-anchor="start" fill="#1a1a1a" stroke="#1a1a1a" stroke-width="0.22">s=50m</text>
<path d="M363.2 261.95h14.8" stroke="#4dbeee" stroke-width="1.1"/>
<text transform="translate(379.4 264.15) scale(1 1.06)" font-family='"Liberation Sans", sans-serif' font-size="6.0" font-weight="bold" text-anchor="start" fill="#1a1a1a" stroke="#1a1a1a" stroke-width="0.22">s=60m</text>
<path d="M363.2 270.12h14.8" stroke="#a2142f" stroke-width="1.1"/>
<text transform="translate(379.4 272.32) scale(1 1.06)" font-family='"Liberation Sans", sans-serif' font-size="6.0" font-weight="bold" text-anchor="start" fill="#1a1a1a" stroke="#1a1a1a" stroke-width="0.22">s=70m</text>
<path d="M363.2 278.29h14.8" stroke="#0072bd" stroke-width="1.1"/>
<text transform="translate(379.4 280.49) scale(1 1.06)" font-family='"Liberation Sans", sans-serif' font-size="6.0" font-weight="bold" text-anchor="start" fill="#1a1a1a" stroke="#1a1a1a" stroke-width="0.22">s=80m</text>
<path d="M363.2 286.46h14.8" stroke="#d95319" stroke-width="1.1"/>
<text transform="translate(379.4 288.66) scale(1 1.06)" font-family='"Liberation Sans", sans-serif' font-size="6.0" font-weight="bold" text-anchor="start" fill="#1a1a1a" stroke="#1a1a1a" stroke-width="0.22">s=90m</text>
<path d="M363.2 294.63h14.8" stroke="#edb120" stroke-width="1.1"/>
<text transform="translate(379.4 296.83) scale(1 1.06)" font-family='"Liberation Sans", sans-serif' font-size="6.0" font-weight="bold" text-anchor="start" fill="#1a1a1a" stroke="#1a1a1a" stroke-width="0.22">s=100m</text>
<rect x="477.6" y="12.6" width="199.6" height="58.8" fill="none" stroke="#8e8e8e" stroke-width="1"/>
<path d="M497.2 71.4v-2M497.2 12.6v2M517.2 71.4v-2M517.2 12.6v2M537.2 71.4v-2M537.2 12.6v2M557.2 71.4v-2M557.2 12.6v2M577.2 71.4v-2M577.2 12.6v2M597.2 71.4v-2M597.2 12.6v2M617.2 71.4v-2M617.2 12.6v2M637.2 71.4v-2M637.2 12.6v2M657.2 71.4v-2M657.2 12.6v2M677.2 71.4v-2M677.2 12.6v2M477.6 63.84h2M677.2 63.84h-2M477.6 51.03h2M677.2 51.03h-2M477.6 38.22h2M677.2 38.22h-2M477.6 25.41h2M677.2 25.41h-2M477.6 12.6h2M677.2 12.6h-2" stroke="#8e8e8e" stroke-width="1" fill="none"/>
<text transform="translate(497.2 80.99) scale(1 1.08)" font-family='"Liberation Serif", serif' font-size="7.1" font-weight="bold" text-anchor="middle" fill="#1a1a1a" stroke="#1a1a1a" stroke-width="0.22">50</text>
<text transform="translate(517.2 80.99) scale(1 1.08)" font-family='"Liberation Serif", serif' font-size="7.1" font-weight="bold" text-anchor="middle" fill="#1a1a1a" stroke="#1a1a1a" stroke-width="0.22">100</text>
<text transform="translate(537.2 80.99) scale(1 1.08)" font-family='"Liberation Serif", serif' font-size="7.1" font-weight="bold" text-anchor="middle" fill="#1a1a1a" stroke="#1a1a1a" stroke-width="0.22">150</text>
<text transform="translate(557.2 80.99) scale(1 1.08)" font-family='"Liberation Serif", serif' font-size="7.1" font-weight="bold" text-anchor="middle" fill="#1a1a1a" stroke="#1a1a1a" stroke-width="0.22">200</text>
<text transform="translate(577.2 80.99) scale(1 1.08)" font-family='"Liberation Serif", serif' font-size="7.1" font-weight="bold" text-anchor="middle" fill="#1a1a1a" stroke="#1a1a1a" stroke-width="0.22">250</text>
<text transform="translate(597.2 80.99) scale(1 1.08)" font-family='"Liberation Serif", serif' font-size="7.1" font-weight="bold" text-anchor="middle" fill="#1a1a1a" stroke="#1a1a1a" stroke-width="0.22">300</text>
<text transform="translate(617.2 80.99) scale(1 1.08)" font-family='"Liberation Serif", serif' font-size="7.1" font-weight="bold" text-anchor="middle" fill="#1a1a1a" stroke="#1a1a1a" stroke-width="0.22">350</text>
<text transform="translate(637.2 80.99) scale(1 1.08)" font-family='"Liberation Serif", serif' font-size="7.1" font-weight="bold" text-anchor="middle" fill="#1a1a1a" stroke="#1a1a1a" stroke-width="0.22">400</text>
<text transform="translate(657.2 80.99) scale(1 1.08)" font-family='"Liberation Serif", serif' font-size="7.1" font-weight="bold" text-anchor="middle" fill="#1a1a1a" stroke="#1a1a1a" stroke-width="0.22">450</text>
<text transform="translate(677.2 80.99) scale(1 1.08)" font-family='"Liberation Serif", serif' font-size="7.1" font-weight="bold" text-anchor="middle" fill="#1a1a1a" stroke="#1a1a1a" stroke-width="0.22">500</text>
<text transform="translate(475.6 66.83) scale(1 1.08)" font-family='"Liberation Serif", serif' font-size="7.1" font-weight="bold" text-anchor="end" fill="#1a1a1a" stroke="#1a1a1a" stroke-width="0.22">0.2</text>
<text transform="translate(475.6 54.02) scale(1 1.08)" font-family='"Liberation Serif", serif' font-size="7.1" font-weight="bold" text-anchor="end" fill="#1a1a1a" stroke="#1a1a1a" stroke-width="0.22">0.4</text>
<text transform="translate(475.6 41.21) scale(1 1.08)" font-family='"Liberation Serif", serif' font-size="7.1" font-weight="bold" text-anchor="end" fill="#1a1a1a" stroke="#1a1a1a" stroke-width="0.22">0.6</text>
<text transform="translate(475.6 28.4) scale(1 1.08)" font-family='"Liberation Serif", serif' font-size="7.1" font-weight="bold" text-anchor="end" fill="#1a1a1a" stroke="#1a1a1a" stroke-width="0.22">0.8</text>
<text transform="translate(475.6 15.59) scale(1 1.08)" font-family='"Liberation Serif", serif' font-size="7.1" font-weight="bold" text-anchor="end" fill="#1a1a1a" stroke="#1a1a1a" stroke-width="0.22">1</text>
<rect x="479" y="93.3" width="199" height="55" fill="none" stroke="#8e8e8e" stroke-width="1"/>
<path d="M498.54 148.3v-2M498.54 93.3v2M518.48 148.3v-2M518.48 93.3v2M538.42 148.3v-2M538.42 93.3v2M558.36 148.3v-2M558.36 93.3v2M578.3 148.3v-2M578.3 93.3v2M598.24 148.3v-2M598.24 93.3v2M618.18 148.3v-2M618.18 93.3v2M638.12 148.3v-2M638.12 93.3v2M658.06 148.3v-2M658.06 93.3v2M678 148.3v-2M678 93.3v2M479 148.3h2M678 148.3h-2M479 136.08h2M678 136.08h-2M479 123.86h2M678 123.86h-2M479 111.63h2M678 111.63h-2M479 99.41h2M678 99.41h-2" stroke="#8e8e8e" stroke-width="1" fill="none"/>
<text transform="translate(498.54 157.69) scale(1 1.08)" font-family='"Liberation Serif", serif' font-size="7.1" font-weight="bold" text-anchor="middle" fill="#1a1a1a" stroke="#1a1a1a" stroke-width="0.22">50</text>
<text transform="translate(518.48 157.69) scale(1 1.08)" font-family='"Liberation Serif", serif' font-size="7.1" font-weight="bold" text-anchor="middle" fill="#1a1a1a" stroke="#1a1a1a" stroke-width="0.22">100</text>
<text transform="translate(538.42 157.69) scale(1 1.08)" font-family='"Liberation Serif", serif' font-size="7.1" font-weight="bold" text-anchor="middle" fill="#1a1a1a" stroke="#1a1a1a" stroke-width="0.22">150</text>
<text transform="translate(558.36 157.69) scale(1 1.08)" font-family='"Liberation Serif", serif' font-size="7.1" font-weight="bold" text-anchor="middle" fill="#1a1a1a" stroke="#1a1a1a" stroke-width="0.22">200</text>
<text transform="translate(578.3 157.69) scale(1 1.08)" font-family='"Liberation Serif", serif' font-size="7.1" font-weight="bold" text-anchor="middle" fill="#1a1a1a" stroke="#1a1a1a" stroke-width="0.22">250</text>
<text transform="translate(598.24 157.69) scale(1 1.08)" font-family='"Liberation Serif", serif' font-size="7.1" font-weight="bold" text-anchor="middle" fill="#1a1a1a" stroke="#1a1a1a" stroke-width="0.22">300</text>
<text transform="translate(618.18 157.69) scale(1 1.08)" font-family='"Liberation Serif", serif' font-size="7.1" font-weight="bold" text-anchor="middle" fill="#1a1a1a" stroke="#1a1a1a" stroke-width="0.22">350</text>
<text transform="translate(638.12 157.69) scale(1 1.08)" font-family='"Liberation Serif", serif' font-size="7.1" font-weight="bold" text-anchor="middle" fill="#1a1a1a" stroke="#1a1a1a" stroke-width="0.22">400</text>
<text transform="translate(658.06 157.69) scale(1 1.08)" font-family='"Liberation Serif", serif' font-size="7.1" font-weight="bold" text-anchor="middle" fill="#1a1a1a" stroke="#1a1a1a" stroke-width="0.22">450</text>
<text transform="translate(678 157.69) scale(1 1.08)" font-family='"Liberation Serif", serif' font-size="7.1" font-weight="bold" text-anchor="middle" fill="#1a1a1a" stroke="#1a1a1a" stroke-width="0.22">500</text>
<text transform="translate(476.6 151.29) scale(1 1.08)" font-family='"Liberation Serif", serif' font-size="7.1" font-weight="bold" text-anchor="end" fill="#1a1a1a" stroke="#1a1a1a" stroke-width="0.22">0</text>
<text transform="translate(476.6 139.07) scale(1 1.08)" font-family='"Liberation Serif", serif' font-size="7.1" font-weight="bold" text-anchor="end" fill="#1a1a1a" stroke="#1a1a1a" stroke-width="0.22">0.2</text>
<text transform="translate(476.6 126.85) scale(1 1.08)" font-family='"Liberation Serif", serif' font-size="7.1" font-weight="bold" text-anchor="end" fill="#1a1a1a" stroke="#1a1a1a" stroke-width="0.22">0.4</text>
<text transform="translate(476.6 114.63) scale(1 1.08)" font-family='"Liberation Serif", serif' font-size="7.1" font-weight="bold" text-anchor="end" fill="#1a1a1a" stroke="#1a1a1a" stroke-width="0.22">0.6</text>
<text transform="translate(476.6 102.4) scale(1 1.08)" font-family='"Liberation Serif", serif' font-size="7.1" font-weight="bold" text-anchor="end" fill="#1a1a1a" stroke="#1a1a1a" stroke-width="0.22">0.8</text>
<rect x="478.6" y="171.2" width="200" height="56.1" fill="none" stroke="#8e8e8e" stroke-width="1"/>
<path d="M498.24 227.3v-2M498.24 171.2v2M518.28 227.3v-2M518.28 171.2v2M538.32 227.3v-2M538.32 171.2v2M558.36 227.3v-2M558.36 171.2v2M578.4 227.3v-2M578.4 171.2v2M598.44 227.3v-2M598.44 171.2v2M618.48 227.3v-2M618.48 171.2v2M638.52 227.3v-2M638.52 171.2v2M658.56 227.3v-2M658.56 171.2v2M678.6 227.3v-2M678.6 171.2v2M478.6 227.3h2M678.6 227.3h-2M478.6 208.6h2M678.6 208.6h-2M478.6 189.9h2M678.6 189.9h-2M478.6 171.2h2M678.6 171.2h-2" stroke="#8e8e8e" stroke-width="1" fill="none"/>
<text transform="translate(498.24 236.99) scale(1 1.08)" font-family='"Liberation Serif", serif' font-size="7.1" font-weight="bold" text-anchor="middle" fill="#1a1a1a" stroke="#1a1a1a" stroke-width="0.22">50</text>
<text transform="translate(518.28 236.99) scale(1 1.08)" font-family='"Liberation Serif", serif' font-size="7.1" font-weight="bold" text-anchor="middle" fill="#1a1a1a" stroke="#1a1a1a" stroke-width="0.22">100</text>
<text transform="translate(538.32 236.99) scale(1 1.08)" font-family='"Liberation Serif", serif' font-size="7.1" font-weight="bold" text-anchor="middle" fill="#1a1a1a" stroke="#1a1a1a" stroke-width="0.22">150</text>
<text transform="translate(558.36 236.99) scale(1 1.08)" font-family='"Liberation Serif", serif' font-size="7.1" font-weight="bold" text-anchor="middle" fill="#1a1a1a" stroke="#1a1a1a" stroke-width="0.22">200</text>
<text transform="translate(578.4 236.99) scale(1 1.08)" font-family='"Liberation Serif", serif' font-size="7.1" font-weight="bold" text-anchor="middle" fill="#1a1a1a" stroke="#1a1a1a" stroke-width="0.22">250</text>
<text transform="translate(598.44 236.99) scale(1 1.08)" font-family='"Liberation Serif", serif' font-size="7.1" font-weight="bold" text-anchor="middle" fill="#1a1a1a" stroke="#1a1a1a" stroke-width="0.22">300</text>
<text transform="translate(618.48 236.99) scale(1 1.08)" font-family='"Liberation Serif", serif' font-size="7.1" font-weight="bold" text-anchor="middle" fill="#1a1a1a" stroke="#1a1a1a" stroke-width="0.22">350</text>
<text transform="translate(638.52 236.99) scale(1 1.08)" font-family='"Liberation Serif", serif' font-size="7.1" font-weight="bold" text-anchor="middle" fill="#1a1a1a" stroke="#1a1a1a" stroke-width="0.22">400</text>
<text transform="translate(658.56 236.99) scale(1 1.08)" font-family='"Liberation Serif", serif' font-size="7.1" font-weight="bold" text-anchor="middle" fill="#1a1a1a" stroke="#1a1a1a" stroke-width="0.22">450</text>
<text transform="translate(678.6 236.99) scale(1 1.08)" font-family='"Liberation Serif", serif' font-size="7.1" font-weight="bold" text-anchor="middle" fill="#1a1a1a" stroke="#1a1a1a" stroke-width="0.22">500</text>
<text transform="translate(476 230.29) scale(1 1.08)" font-family='"Liberation Serif", serif' font-size="7.1" font-weight="bold" text-anchor="end" fill="#1a1a1a" stroke="#1a1a1a" stroke-width="0.22">11.5</text>
<text transform="translate(476 211.59) scale(1 1.08)" font-family='"Liberation Serif", serif' font-size="7.1" font-weight="bold" text-anchor="end" fill="#1a1a1a" stroke="#1a1a1a" stroke-width="0.22">12</text>
<text transform="translate(476 192.89) scale(1 1.08)" font-family='"Liberation Serif", serif' font-size="7.1" font-weight="bold" text-anchor="end" fill="#1a1a1a" stroke="#1a1a1a" stroke-width="0.22">12.5</text>
<text transform="translate(476 174.19) scale(1 1.08)" font-family='"Liberation Serif", serif' font-size="7.1" font-weight="bold" text-anchor="end" fill="#1a1a1a" stroke="#1a1a1a" stroke-width="0.22">13</text>
<rect x="478.8" y="247.8" width="200.2" height="50.4" fill="none" stroke="#8e8e8e" stroke-width="1"/>
<path d="M498.46 298.2v-2M498.46 247.8v2M518.52 298.2v-2M518.52 247.8v2M538.58 298.2v-2M538.58 247.8v2M558.64 298.2v-2M558.64 247.8v2M578.7 298.2v-2M578.7 247.8v2M598.76 298.2v-2M598.76 247.8v2M618.82 298.2v-2M618.82 247.8v2M638.88 298.2v-2M638.88 247.8v2M658.94 298.2v-2M658.94 247.8v2M679 298.2v-2M679 247.8v2M478.8 298.2h2M679 298.2h-2M478.8 281.4h2M679 281.4h-2M478.8 264.6h2M679 264.6h-2M478.8 247.8h2M679 247.8h-2" stroke="#8e8e8e" stroke-width="1" fill="none"/>
<text transform="translate(498.46 307.89) scale(1 1.08)" font-family='"Liberation Serif", serif' font-size="7.1" font-weight="bold" text-anchor="middle" fill="#1a1a1a" stroke="#1a1a1a" stroke-width="0.22">50</text>
<text transform="translate(518.52 307.89) scale(1 1.08)" font-family='"Liberation Serif", serif' font-size="7.1" font-weight="bold" text-anchor="middle" fill="#1a1a1a" stroke="#1a1a1a" stroke-width="0.22">100</text>
<text transform="translate(538.58 307.89) scale(1 1.08)" font-family='"Liberation Serif", serif' font-size="7.1" font-weight="bold" text-anchor="middle" fill="#1a1a1a" stroke="#1a1a1a" stroke-width="0.22">150</text>
<text transform="translate(558.64 307.89) scale(1 1.08)" font-family='"Liberation Serif", serif' font-size="7.1" font-weight="bold" text-anchor="middle" fill="#1a1a1a" stroke="#1a1a1a" stroke-width="0.22">200</text>
<text transform="translate(578.7 307.89) scale(1 1.08)" font-family='"Liberation Serif", serif' font-size="7.1" font-weight="bold" text-anchor="middle" fill="#1a1a1a" stroke="#1a1a1a" stroke-width="0.22">250</text>
<text transform="translate(598.76 307.89) scale(1 1.08)" font-family='"Liberation Serif", serif' font-size="7.1" font-weight="bold" text-anchor="middle" fill="#1a1a1a" stroke="#1a1a1a" stroke-width="0.22">300</text>
<text transform="translate(618.82 307.89) scale(1 1.08)" font-family='"Liberation Serif", serif' font-size="7.1" font-weight="bold" text-anchor="middle" fill="#1a1a1a" stroke="#1a1a1a" stroke-width="0.22">350</text>
<text transform="translate(638.88 307.89) scale(1 1.08)" font-family='"Liberation Serif", serif' font-size="7.1" font-weight="bold" text-anchor="middle" fill="#1a1a1a" stroke="#1a1a1a" stroke-width="0.22">400</text>
<text transform="translate(658.94 307.89) scale(1 1.08)" font-family='"Liberation Serif", serif' font-size="7.1" font-weight="bold" text-anchor="middle" fill="#1a1a1a" stroke="#1a1a1a" stroke-width="0.22">450</text>
<text transform="translate(679 307.89) scale(1 1.08)" font-family='"Liberation Serif", serif' font-size="7.1" font-weight="bold" text-anchor="middle" fill="#1a1a1a" stroke="#1a1a1a" stroke-width="0.22">500</text>
<text transform="translate(476 301.19) scale(1 1.08)" font-family='"Liberation Serif", serif' font-size="7.1" font-weight="bold" text-anchor="end" fill="#1a1a1a" stroke="#1a1a1a" stroke-width="0.22">11.5</text>
<text transform="translate(476 284.39) scale(1 1.08)" font-family='"Liberation Serif", serif' font-size="7.1" font-weight="bold" text-anchor="end" fill="#1a1a1a" stroke="#1a1a1a" stroke-width="0.22">12</text>
<text transform="translate(476 267.59) scale(1 1.08)" font-family='"Liberation Serif", serif' font-size="7.1" font-weight="bold" text-anchor="end" fill="#1a1a1a" stroke="#1a1a1a" stroke-width="0.22">12.5</text>
<text transform="translate(476 250.79) scale(1 1.08)" font-family='"Liberation Serif", serif' font-size="7.1" font-weight="bold" text-anchor="end" fill="#1a1a1a" stroke="#1a1a1a" stroke-width="0.22">13</text>
<text transform="translate(577.4 11.2) scale(1 1.06)" font-family='"Liberation Serif", serif' font-size="7.8" font-weight="bold" text-anchor="middle" fill="#1a1a1a" stroke="#1a1a1a" stroke-width="0.22">Loudness= 0.081982</text>
<text transform="translate(578.5 92) scale(1 1.06)" font-family='"Liberation Serif", serif' font-size="7.8" font-weight="bold" text-anchor="middle" fill="#1a1a1a" stroke="#1a1a1a" stroke-width="0.22">Emission rate= 0.89996</text>
<text transform="translate(578.9 170) scale(1 1.06)" font-family='"Liberation Serif", serif' font-size="7.8" font-weight="bold" text-anchor="middle" fill="#1a1a1a" stroke="#1a1a1a" stroke-width="0.22">Global Best</text>
<text transform="translate(579.6 246.7) scale(1 1.06)" font-family='"Liberation Serif", serif' font-size="7.8" font-weight="bold" text-anchor="middle" fill="#1a1a1a" stroke="#1a1a1a" stroke-width="0.22">Average NRMSE of Bats</text>
<text transform="translate(464.3 41.8) rotate(-90) scale(1 1.08)" font-family='"Liberation Serif", serif' font-size="7.7" font-weight="bold" text-anchor="middle" fill="#1a1a1a" stroke="#1a1a1a" stroke-width="0.22">Loudness</text>
<text transform="translate(465.1 121.6) rotate(-90) scale(1 1.08)" font-family='"Liberation Serif", serif' font-size="7.7" font-weight="bold" text-anchor="middle" fill="#1a1a1a" stroke="#1a1a1a" stroke-width="0.22">Emission rate</text>
<text transform="translate(463 199.2) rotate(-90) scale(1 1.08)" font-family='"Liberation Serif", serif' font-size="7.7" font-weight="bold" text-anchor="middle" fill="#1a1a1a" stroke="#1a1a1a" stroke-width="0.22">NRMSE(%)</text>
<text transform="translate(463 272.5) rotate(-90) scale(1 1.08)" font-family='"Liberation Serif", serif' font-size="7.7" font-weight="bold" text-anchor="middle" fill="#1a1a1a" stroke="#1a1a1a" stroke-width="0.22">NRMSE(%)</text>
<text transform="translate(579 316.4) scale(1 1.06)" font-family='"Liberation Serif", serif' font-size="7.7" font-weight="bold" text-anchor="middle" fill="#1a1a1a" stroke="#1a1a1a" stroke-width="0.22">iteration</text>
<polyline points="477.6,12.6 478,12.92 478.4,13.24 478.8,13.56 479.2,13.87 479.6,14.19 480,14.5 480.4,14.81 480.8,15.12 481.2,15.43 481.6,15.73 482,16.04 482.4,16.34 482.8,16.64 483.2,16.94 483.6,17.24 484,17.54 484.4,17.83 484.8,18.13 485.2,18.42 485.6,18.71 486,19 486.4,19.29 486.8,19.57 487.2,19.86 487.6,20.14 488,20.43 488.4,20.71 488.8,20.99 489.2,21.27 489.6,21.54 490,21.82 490.4,22.09 490.8,22.37 491.2,22.64 491.6,22.91 492,23.18 492.4,23.44 492.8,23.71 493.2,23.97 493.6,24.24 494,24.5 494.4,24.76 494.8,25.02 495.2,25.28 495.6,25.53 496,25.79 496.4,26.04 496.8,26.3 497.2,26.55 497.6,26.8 498,27.05 498.4,27.3 498.8,27.54 499.2,27.79 499.6,28.03 500,28.28 500.4,28.52 500.8,28.76 501.2,29 501.6,29.24 502,29.47 502.4,29.71 502.8,29.94 503.2,30.18 503.6,30.41 504,30.64 504.4,30.87 504.8,31.1 505.2,31.33 505.6,31.55 506,31.78 506.4,32 506.8,32.23 507.2,32.45 507.6,32.67 508,32.89 508.4,33.11 508.8,33.33 509.2,33.54 509.6,33.76 510,33.97 510.4,34.19 510.8,34.4 511.2,34.61 511.6,34.82 512,35.03 512.4,35.24 512.8,35.45 513.2,35.65 513.6,35.86 514,36.06 514.4,36.26 514.8,36.47 515.2,36.67 515.6,36.87 516,37.07 516.4,37.26 516.8,37.46 517.2,37.66 517.6,37.85 518,38.04 518.4,38.24 518.8,38.43 519.2,38.62 519.6,38.81 520,39 520.4,39.19 520.8,39.38 521.2,39.56 521.6,39.75 522,39.93 522.4,40.12 522.8,40.3 523.2,40.48 523.6,40.66 524,40.84 524.4,41.02 524.8,41.2 525.2,41.38 525.6,41.55 526,41.73 526.4,41.9 526.8,42.08 527.2,42.25 527.6,42.42 528,42.59 528.4,42.76 528.8,42.93 529.2,43.1 529.6,43.27 530,43.43 530.4,43.6 530.8,43.77 531.2,43.93 531.6,44.09 532,44.26 532.4,44.42 532.8,44.58 533.2,44.74 533.6,44.9 534,45.06 534.4,45.22 534.8,45.37 535.2,45.53 535.6,45.69 536,45.84 536.4,45.99 536.8,46.15 537.2,46.3 537.6,46.45 538,46.6 538.4,46.75 538.8,46.9 539.2,47.05 539.6,47.2 540,47.35 540.4,47.49 540.8,47.64 541.2,47.78 541.6,47.93 542,48.07 542.4,48.22 542.8,48.36 543.2,48.5 543.6,48.64 544,48.78 544.4,48.92 544.8,49.06 545.2,49.2 545.6,49.33 546,49.47 546.4,49.61 546.8,49.74 547.2,49.88 547.6,50.01 548,50.14 548.4,50.27 548.8,50.41 549.2,50.54 549.6,50.67 550,50.8 550.4,50.93 550.8,51.06 551.2,51.18 551.6,51.31 552,51.44 552.4,51.56 552.8,51.69 553.2,51.81 553.6,51.94 554,52.06 554.4,52.19 554.8,52.31 555.2,52.43 555.6,52.55 556,52.67 556.4,52.79 556.8,52.91 557.2,53.03 557.6,53.15 558,53.26 558.4,53.38 558.8,53.5 559.2,53.61 559.6,53.73 560,53.84 560.4,53.96 560.8,54.07 561.2,54.18 561.6,54.3 562,54.41 562.4,54.52 562.8,54.63 563.2,54.74 563.6,54.85 564,54.96 564.4,55.07 564.8,55.17 565.2,55.28 565.6,55.39 566,55.5 566.4,55.6 566.8,55.71 567.2,55.81 567.6,55.92 568,56.02 568.4,56.12 568.8,56.22 569.2,56.33 569.6,56.43 570,56.53 570.4,56.63 570.8,56.73 571.2,56.83 571.6,56.93 572,57.03 572.4,57.13 572.8,57.22 573.2,57.32 573.6,57.42 574,57.51 574.4,57.61 574.8,57.7 575.2,57.8 575.6,57.89 576,57.99 576.4,58.08 576.8,58.17 577.2,58.27 577.6,58.36 578,58.45 578.4,58.54 578.8,58.63 579.2,58.72 579.6,58.81 580,58.9 580.4,58.99 580.8,59.08 581.2,59.16 581.6,59.25 582,59.34 582.4,59.43 582.8,59.51 583.2,59.6 583.6,59.68 584,59.77 584.4,59.85 584.8,59.94 585.2,60.02 585.6,60.1 586,60.19 586.4,60.27 586.8,60.35 587.2,60.43 587.6,60.51 588,60.59 588.4,60.67 588.8,60.75 589.2,60.83 589.6,60.91 590,60.99 590.4,61.07 590.8,61.15 591.2,61.22 591.6,61.3 592,61.38 592.4,61.45 592.8,61.53 593.2,61.61 593.6,61.68 594,61.76 594.4,61.83 594.8,61.9 595.2,61.98 595.6,62.05 596,62.12 596.4,62.2 596.8,62.27 597.2,62.34 597.6,62.41 598,62.48 598.4,62.56 598.8,62.63 599.2,62.7 599.6,62.77 600,62.83 600.4,62.9 600.8,62.97 601.2,63.04 601.6,63.11 602,63.18 602.4,63.24 602.8,63.31 603.2,63.38 603.6,63.44 604,63.51 604.4,63.58 604.8,63.64 605.2,63.71 605.6,63.77 606,63.84 606.4,63.9 606.8,63.96 607.2,64.03 607.6,64.09 608,64.15 608.4,64.22 608.8,64.28 609.2,64.34 609.6,64.4 610,64.46 610.4,64.52 610.8,64.58 611.2,64.64 611.6,64.7 612,64.76 612.4,64.82 612.8,64.88 613.2,64.94 613.6,65 614,65.06 614.4,65.12 614.8,65.17 615.2,65.23 615.6,65.29 616,65.34 616.4,65.4 616.8,65.46 617.2,65.51 617.6,65.57 618,65.62 618.4,65.68 618.8,65.73 619.2,65.79 619.6,65.84 620,65.9 620.4,65.95 620.8,66 621.2,66.06 621.6,66.11 622,66.16 622.4,66.22 622.8,66.27 623.2,66.32 623.6,66.37 624,66.42 624.4,66.47 624.8,66.53 625.2,66.58 625.6,66.63 626,66.68 626.4,66.73 626.8,66.78 627.2,66.83 627.6,66.87 628,66.92 628.4,66.97 628.8,67.02 629.2,67.07 629.6,67.12 630,67.16 630.4,67.21 630.8,67.26 631.2,67.31 631.6,67.35 632,67.4 632.4,67.45 632.8,67.49 633.2,67.54 633.6,67.58 634,67.63 634.4,67.67 634.8,67.72 635.2,67.76 635.6,67.81 636,67.85 636.4,67.9 636.8,67.94 637.2,67.98 637.6,68.03 638,68.07 638.4,68.11 638.8,68.15 639.2,68.2 639.6,68.24 640,68.28 640.4,68.32 640.8,68.37 641.2,68.41 641.6,68.45 642,68.49 642.4,68.53 642.8,68.57 643.2,68.61 643.6,68.65 644,68.69 644.4,68.73 644.8,68.77 645.2,68.81 645.6,68.85 646,68.89 646.4,68.93 646.8,68.97 647.2,69 647.6,69.04 648,69.08 648.4,69.12 648.8,69.16 649.2,69.19 649.6,69.23 650,69.27 650.4,69.3 650.8,69.34 651.2,69.38 651.6,69.41 652,69.45 652.4,69.49 652.8,69.52 653.2,69.56 653.6,69.59 654,69.63 654.4,69.66 654.8,69.7 655.2,69.73 655.6,69.77 656,69.8 656.4,69.84 656.8,69.87 657.2,69.9 657.6,69.94 658,69.97 658.4,70.01 658.8,70.04 659.2,70.07 659.6,70.1 660,70.14 660.4,70.17 660.8,70.2 661.2,70.23 661.6,70.27 662,70.3 662.4,70.33 662.8,70.36 663.2,70.39 663.6,70.42 664,70.46 664.4,70.49 664.8,70.52 665.2,70.55 665.6,70.58 666,70.61 666.4,70.64 666.8,70.67 667.2,70.7 667.6,70.73 668,70.76 668.4,70.79 668.8,70.82 669.2,70.85 669.6,70.88 670,70.9 670.4,70.93 670.8,70.96 671.2,70.99 671.6,71.02 672,71.05 672.4,71.07 672.8,71.1 673.2,71.13 673.6,71.16 674,71.19 674.4,71.21 674.8,71.24 675.2,71.27 675.6,71.29 676,71.32 676.4,71.35 676.8,71.37 677.2,71.4" fill="none" stroke="#4dbeee" stroke-width="3" stroke-linecap="round"/>
<polyline points="479,147.21 479.4,146.14 479.8,145.1 480.2,144.07 480.6,143.07 480.99,142.08 481.39,141.11 481.79,140.17 482.19,139.24 482.59,138.33 482.99,137.44 483.39,136.56 483.79,135.71 484.18,134.87 484.58,134.05 484.98,133.24 485.38,132.45 485.78,131.67 486.18,130.91 486.58,130.17 486.98,129.44 487.37,128.72 487.77,128.02 488.17,127.33 488.57,126.66 488.97,126 489.37,125.35 489.77,124.72 490.17,124.09 490.57,123.48 490.96,122.89 491.36,122.3 491.76,121.73 492.16,121.16 492.56,120.61 492.96,120.07 493.36,119.54 493.76,119.02 494.15,118.51 494.55,118.01 494.95,117.52 495.35,117.04 495.75,116.57 496.15,116.11 496.55,115.66 496.95,115.22 497.34,114.78 497.74,114.36 498.14,113.94 498.54,113.53 498.94,113.13 499.34,112.74 499.74,112.36 500.14,111.98 500.54,111.61 500.93,111.25 501.33,110.89 501.73,110.54 502.13,110.2 502.53,109.87 502.93,109.54 503.33,109.22 503.73,108.9 504.12,108.59 504.52,108.29 504.92,107.99 505.32,107.7 505.72,107.42 506.12,107.14 506.52,106.86 506.92,106.59 507.31,106.33 507.71,106.07 508.11,105.82 508.51,105.57 508.91,105.33 509.31,105.09 509.71,104.86 510.11,104.63 510.51,104.4 510.9,104.18 511.3,103.97 511.7,103.76 512.1,103.55 512.5,103.35 512.9,103.15 513.3,102.95 513.7,102.76 514.09,102.58 514.49,102.39 514.89,102.21 515.29,102.03 515.69,101.86 516.09,101.69 516.49,101.53 516.89,101.36 517.28,101.2 517.68,101.05 518.08,100.89 518.48,100.74 518.88,100.6 519.28,100.45 519.68,100.31 520.08,100.17 520.47,100.04 520.87,99.9 521.27,99.77 521.67,99.64 522.07,99.52 522.47,99.39 522.87,99.27 523.27,99.16 523.67,99.04 524.06,98.93 524.46,98.81 524.86,98.71 525.26,98.6 525.66,98.49 526.06,98.39 526.46,98.29 526.86,98.19 527.25,98.09 527.65,98 528.05,97.91 528.45,97.81 528.85,97.73 529.25,97.64 529.65,97.55 530.05,97.47 530.44,97.39 530.84,97.3 531.24,97.22 531.64,97.15 532.04,97.07 532.44,97 532.84,96.92 533.24,96.85 533.64,96.78 534.03,96.71 534.43,96.64 534.83,96.58 535.23,96.51 535.63,96.45 536.03,96.39 536.43,96.33 536.83,96.27 537.22,96.21 537.62,96.15 538.02,96.09 538.42,96.04 538.82,95.98 539.22,95.93 539.62,95.88 540.02,95.83 540.41,95.78 540.81,95.73 541.21,95.68 541.61,95.63 542.01,95.59 542.41,95.54 542.81,95.5 543.21,95.45 543.61,95.41 544,95.37 544.4,95.33 544.8,95.29 545.2,95.25 545.6,95.21 546,95.17 546.4,95.14 546.8,95.1 547.19,95.06 547.59,95.03 547.99,94.99 548.39,94.96 548.79,94.93 549.19,94.9 549.59,94.86 549.99,94.83 550.38,94.8 550.78,94.77 551.18,94.74 551.58,94.72 551.98,94.69 552.38,94.66 552.78,94.63 553.18,94.61 553.58,94.58 553.97,94.56 554.37,94.53 554.77,94.51 555.17,94.48 555.57,94.46 555.97,94.44 556.37,94.41 556.77,94.39 557.16,94.37 557.56,94.35 557.96,94.33 558.36,94.31 558.76,94.29 559.16,94.27 559.56,94.25 559.96,94.23 560.35,94.21 560.75,94.19 561.15,94.18 561.55,94.16 561.95,94.14 562.35,94.12 562.75,94.11 563.15,94.09 563.55,94.08 563.94,94.06 564.34,94.05 564.74,94.03 565.14,94.02 565.54,94 565.94,93.99 566.34,93.98 566.74,93.96 567.13,93.95 567.53,93.94 567.93,93.92 568.33,93.91 568.73,93.9 569.13,93.89 569.53,93.88 569.93,93.86 570.32,93.85 570.72,93.84 571.12,93.83 571.52,93.82 571.92,93.81 572.32,93.8 572.72,93.79 573.12,93.78 573.52,93.77 573.91,93.76 574.31,93.75 574.71,93.74 575.11,93.73 575.51,93.73 575.91,93.72 576.31,93.71 576.71,93.7 577.1,93.69 577.5,93.69 577.9,93.68 578.3,93.67 578.7,93.66 579.1,93.66 579.5,93.65 579.9,93.64 580.29,93.64 580.69,93.63 581.09,93.62 581.49,93.62 581.89,93.61 582.29,93.6 582.69,93.6 583.09,93.59 583.48,93.59 583.88,93.58 584.28,93.57 584.68,93.57 585.08,93.56 585.48,93.56 585.88,93.55 586.28,93.55 586.68,93.54 587.07,93.54 587.47,93.53 587.87,93.53 588.27,93.52 588.67,93.52 589.07,93.52 589.47,93.51 589.87,93.51 590.26,93.5 590.66,93.5 591.06,93.5 591.46,93.49 591.86,93.49 592.26,93.48 592.66,93.48 593.06,93.48 593.45,93.47 593.85,93.47 594.25,93.47 594.65,93.46 595.05,93.46 595.45,93.46 595.85,93.45 596.25,93.45 596.65,93.45 597.04,93.44 597.44,93.44 597.84,93.44 598.24,93.44 598.64,93.43 599.04,93.43 599.44,93.43 599.84,93.43 600.23,93.42 600.63,93.42 601.03,93.42 601.43,93.42 601.83,93.41 602.23,93.41 602.63,93.41 603.03,93.41 603.42,93.41 603.82,93.4 604.22,93.4 604.62,93.4 605.02,93.4 605.42,93.4 605.82,93.39 606.22,93.39 606.62,93.39 607.01,93.39 607.41,93.39 607.81,93.38 608.21,93.38 608.61,93.38 609.01,93.38 609.41,93.38 609.81,93.38 610.2,93.37 610.6,93.37 611,93.37 611.4,93.37 611.8,93.37 612.2,93.37 612.6,93.37 613,93.37 613.39,93.36 613.79,93.36 614.19,93.36 614.59,93.36 614.99,93.36 615.39,93.36 615.79,93.36 616.19,93.36 616.59,93.35 616.98,93.35 617.38,93.35 617.78,93.35 618.18,93.35 618.58,93.35 618.98,93.35 619.38,93.35 619.78,93.35 620.17,93.35 620.57,93.34 620.97,93.34 621.37,93.34 621.77,93.34 622.17,93.34 622.57,93.34 622.97,93.34 623.36,93.34 623.76,93.34 624.16,93.34 624.56,93.34 624.96,93.34 625.36,93.33 625.76,93.33 626.16,93.33 626.56,93.33 626.95,93.33 627.35,93.33 627.75,93.33 628.15,93.33 628.55,93.33 628.95,93.33 629.35,93.33 629.75,93.33 630.14,93.33 630.54,93.33 630.94,93.33 631.34,93.33 631.74,93.33 632.14,93.32 632.54,93.32 632.94,93.32 633.33,93.32 633.73,93.32 634.13,93.32 634.53,93.32 634.93,93.32 635.33,93.32 635.73,93.32 636.13,93.32 636.53,93.32 636.92,93.32 637.32,93.32 637.72,93.32 638.12,93.32 638.52,93.32 638.92,93.32 639.32,93.32 639.72,93.32 640.11,93.32 640.51,93.32 640.91,93.32 641.31,93.32 641.71,93.32 642.11,93.32 642.51,93.31 642.91,93.31 643.3,93.31 643.7,93.31 644.1,93.31 644.5,93.31 644.9,93.31 645.3,93.31 645.7,93.31 646.1,93.31 646.49,93.31 646.89,93.31 647.29,93.31 647.69,93.31 648.09,93.31 648.49,93.31 648.89,93.31 649.29,93.31 649.69,93.31 650.08,93.31 650.48,93.31 650.88,93.31 651.28,93.31 651.68,93.31 652.08,93.31 652.48,93.31 652.88,93.31 653.27,93.31 653.67,93.31 654.07,93.31 654.47,93.31 654.87,93.31 655.27,93.31 655.67,93.31 656.07,93.31 656.46,93.31 656.86,93.31 657.26,93.31 657.66,93.31 658.06,93.31 658.46,93.31 658.86,93.31 659.26,93.31 659.66,93.31 660.05,93.31 660.45,93.31 660.85,93.31 661.25,93.31 661.65,93.31 662.05,93.31 662.45,93.31 662.85,93.31 663.24,93.31 663.64,93.31 664.04,93.31 664.44,93.3 664.84,93.3 665.24,93.3 665.64,93.3 666.04,93.3 666.43,93.3 666.83,93.3 667.23,93.3 667.63,93.3 668.03,93.3 668.43,93.3 668.83,93.3 669.23,93.3 669.63,93.3 670.02,93.3 670.42,93.3 670.82,93.3 671.22,93.3 671.62,93.3 672.02,93.3 672.42,93.3 672.82,93.3 673.21,93.3 673.61,93.3 674.01,93.3 674.41,93.3 674.81,93.3 675.21,93.3 675.61,93.3 676.01,93.3 676.4,93.3 676.8,93.3 677.2,93.3 677.6,93.3 678,93.3" fill="none" stroke="#4dbeee" stroke-width="3" stroke-linecap="round"/>
<circle cx="677.2" cy="71.4" r="1.7" fill="#4dbeee"/>
<circle cx="678" cy="93.3" r="1.7" fill="#4dbeee"/>
<circle cx="479.2" cy="93.3" r="1.2" fill="#4dbeee"/>
<text transform="translate(483.3 35.9) scale(1 1.06)" font-family='"Liberation Serif", serif' font-size="6.8" font-weight="bold" text-anchor="start" fill="#1a1a1a" stroke="#1a1a1a" stroke-width="0.22">(b)</text>
<text transform="translate(484.7 103.3) scale(1 1.06)" font-family='"Liberation Serif", serif' font-size="6.8" font-weight="bold" text-anchor="start" fill="#1a1a1a" stroke="#1a1a1a" stroke-width="0.22">(c)</text>
<text transform="translate(486.6 184.6) scale(1 1.06)" font-family='"Liberation Serif", serif' font-size="6.8" font-weight="bold" text-anchor="start" fill="#1a1a1a" stroke="#1a1a1a" stroke-width="0.22">(e)</text>
<text transform="translate(494.2 260.9) scale(1 1.06)" font-family='"Liberation Serif", serif' font-size="6.8" font-weight="bold" text-anchor="start" fill="#1a1a1a" stroke="#1a1a1a" stroke-width="0.22">(f)</text>
<path d="M478.6 178.68H484.21" stroke="#4dbeee" stroke-width="2.6"/>
<path d="M484.61 178.68V226.37" stroke="#4dbeee" stroke-width="0.9"/>
<path d="M484.61 226.37H678.6" stroke="#4dbeee" stroke-width="2.6"/>
<rect x="616.1" y="174.6" width="58.1" height="9.8" fill="#fff" stroke="#8e8e8e" stroke-width="1"/>
<path d="M618 179.5h15M625.5 177.5v4" stroke="#4dbeee" stroke-width="0.9"/>
<text transform="translate(636 181.7) scale(1 1.06)" font-family='"Liberation Sans", sans-serif' font-size="6.1" font-weight="bold" text-anchor="start" fill="#1a1a1a" stroke="#1a1a1a" stroke-width="0.22">Best solution</text>
<polyline points="478.8,254.86 479.2,254.86 479.6,254.86 480,254.86 480.4,254.86 480.81,254.86 481.21,254.86 481.61,254.86 482.01,254.86 482.41,254.86 482.81,254.86 483.21,254.86 483.61,254.86 484.02,254.86 484.42,254.52 484.82,254.52 485.22,254.52 485.62,269.78 486.02,270.57 486.42,269.13 486.82,271.63 487.23,274.11 487.63,271.14 488.03,271.97 488.43,275.24 488.83,274.21 489.23,272.94 489.63,267.96 490.03,263.93 490.43,272.98 490.84,270.45 491.24,272.13 491.64,274.06 492.04,272.46 492.44,271.21 492.84,273.06 493.24,272.35 493.64,270.99 494.05,273.16 494.45,275.35 494.85,273.76 495.25,273.3 495.65,271.93 496.05,275.99 496.45,276.66 496.85,276.72 497.26,278.7 497.66,276 498.06,274.1 498.46,276.37 498.86,273.43 499.26,273.16 499.66,274.1 500.06,274.83 500.46,274.11 500.87,278.19 501.27,276.31 501.67,284.76 502.07,279.72 502.47,277.63 502.87,277.43 503.27,276.07 503.67,277.81 504.08,278.05 504.48,277.24 504.88,279.45 505.28,277.7 505.68,278.15 506.08,277.69 506.48,279.35 506.88,277.2 507.29,277.14 507.69,279.12 508.09,278.32 508.49,276.74 508.89,275.46 509.29,281.58 509.69,279.5 510.09,278.73 510.49,280.24 510.9,282.52 511.3,279.07 511.7,282.38 512.1,280.89 512.5,278.38 512.9,284.5 513.3,285.11 513.7,287.1 514.11,285.9 514.51,284.44 514.91,283.43 515.31,287.91 515.71,288.3 516.11,286.32 516.51,284.79 516.91,285.91 517.32,287.95 517.72,287.32 518.12,287.33 518.52,287.8 518.92,288.62 519.32,287.6 519.72,287.28 520.12,287.9 520.53,288.32 520.93,289.75 521.33,289.36 521.73,287.03 522.13,288.03 522.53,290.26 522.93,287.55 523.33,287.34 523.73,285.87 524.14,287.7 524.54,289.33 524.94,290.83 525.34,288 525.74,285.3 526.14,288.9 526.54,290.29 526.94,288.77 527.35,290 527.75,290.03 528.15,289.93 528.55,289.36 528.95,288.08 529.35,289.02 529.75,288.48 530.15,289.74 530.56,289.5 530.96,292.19 531.36,292.53 531.76,289.55 532.16,290.25 532.56,289.51 532.96,289.07 533.36,288.19 533.76,288.49 534.17,288.52 534.57,289.83 534.97,291.09 535.37,291.44 535.77,291.2 536.17,291.9 536.57,291.53 536.97,290.75 537.38,290.16 537.78,290.75 538.18,292.97 538.58,291.48 538.98,290.31 539.38,289.17 539.78,289.43 540.18,291.16 540.59,291.84 540.99,288.6 541.39,288.91 541.79,288.2 542.19,287.38 542.59,290.84 542.99,290.74 543.39,290.14 543.79,290 544.2,290 544.6,290.45 545,290.66 545.4,292.72 545.8,291.89 546.2,292.01 546.6,291.23 547,291.58 547.41,290.55 547.81,289.84 548.21,290.38 548.61,290.62 549.01,290.91 549.41,291.68 549.81,291.6 550.21,291.89 550.62,290.99 551.02,291.06 551.42,290.56 551.82,292.63 552.22,290.83 552.62,291.83 553.02,292.56 553.42,291.91 553.82,292.13 554.23,291.27 554.63,291.95 555.03,292.95 555.43,292.92 555.83,290.22 556.23,290.79 556.63,292.84 557.03,291.98 557.44,293.35 557.84,290.02 558.24,292.52 558.64,291.62 559.04,290.64 559.44,293.03 559.84,291.83 560.24,290.2 560.65,290.54 561.05,291.04 561.45,290.31 561.85,290.96 562.25,291.11 562.65,291.6 563.05,290.9 563.45,292.47 563.85,291.09 564.26,291.88 564.66,293.19 565.06,291.7 565.46,289.44 565.86,289.73 566.26,291.86 566.66,291.07 567.06,291.92 567.47,292.04 567.87,291.64 568.27,294.46 568.67,292.53 569.07,292.87 569.47,293.03 569.87,293.83 570.27,294.23 570.68,293.57 571.08,291.17 571.48,289.36 571.88,291.03 572.28,290.45 572.68,291.59 573.08,294.2 573.48,292.46 573.88,291.17 574.29,292.1 574.69,291.62 575.09,290.96 575.49,292.58 575.89,293.98 576.29,292.74 576.69,292.16 577.09,292.33 577.5,290.78 577.9,289.28 578.3,291.54 578.7,291.17 579.1,290.37 579.5,290.54 579.9,290.25 580.3,291.83 580.71,291.12 581.11,289.06 581.51,289.96 581.91,292.24 582.31,291.4 582.71,290.05 583.11,290.84 583.51,292.38 583.92,290.25 584.32,292.68 584.72,291.83 585.12,291.66 585.52,293.33 585.92,290.94 586.32,290.91 586.72,293.14 587.12,291.69 587.53,292.14 587.93,294.39 588.33,293.59 588.73,291.89 589.13,291.01 589.53,291.41 589.93,291.77 590.33,291.31 590.74,291.94 591.14,290.58 591.54,291.19 591.94,291.48 592.34,291.12 592.74,292.94 593.14,293.25 593.54,290.39 593.95,290.82 594.35,292.11 594.75,291.63 595.15,292.35 595.55,291.8 595.95,292.6 596.35,291.89 596.75,293.71 597.15,291.03 597.56,291.95 597.96,294.07 598.36,292.92 598.76,292.48 599.16,291.92 599.56,293.25 599.96,291.97 600.36,287.37 600.77,291.84 601.17,292.11 601.57,292.16 601.97,291.85 602.37,294.05 602.77,294.16 603.17,291.91 603.57,291.78 603.98,289.98 604.38,292.06 604.78,292.06 605.18,288.34 605.58,291.55 605.98,293.39 606.38,292.4 606.78,292.02 607.18,290.95 607.59,291.41 607.99,292.81 608.39,292.04 608.79,288.67 609.19,289.22 609.59,294.74 609.99,293.39 610.39,293.08 610.8,291.6 611.2,291.89 611.6,289.7 612,289.96 612.4,290.46 612.8,291.33 613.2,291.92 613.6,291.57 614.01,290.24 614.41,290.73 614.81,292.14 615.21,290.58 615.61,291.15 616.01,291.97 616.41,292.96 616.81,293.01 617.21,292.99 617.62,295.63 618.02,292 618.42,290.82 618.82,291.97 619.22,290.8 619.62,290.96 620.02,291.32 620.42,294.79 620.83,293.37 621.23,291.43 621.63,289.78 622.03,289.01 622.43,289.41 622.83,292.73 623.23,295.16 623.63,292.28 624.04,291.68 624.44,290.79 624.84,291.69 625.24,291.76 625.64,293.69 626.04,292.11 626.44,292.31 626.84,291.75 627.24,291.26 627.65,291.91 628.05,291.64 628.45,291.85 628.85,291.06 629.25,291.02 629.65,292.41 630.05,292.93 630.45,290.13 630.86,291.31 631.26,290.82 631.66,291.05 632.06,292.48 632.46,293.14 632.86,292.17 633.26,291.61 633.66,291.12 634.07,293.23 634.47,293.27 634.87,292.36 635.27,290.08 635.67,294.11 636.07,292.52 636.47,292.43 636.87,291.7 637.27,292.38 637.68,291.76 638.08,289.92 638.48,290.84 638.88,291.29 639.28,291.33 639.68,292.72 640.08,291.66 640.48,291.98 640.89,293.06 641.29,292.39 641.69,292.27 642.09,291.17 642.49,291.69 642.89,292.64 643.29,290.46 643.69,290.12 644.1,290 644.5,290.67 644.9,291.84 645.3,292.54 645.7,292.51 646.1,290.96 646.5,291.42 646.9,293.72 647.31,292.7 647.71,293.71 648.11,292.42 648.51,293.36 648.91,294.06 649.31,292.41 649.71,292.02 650.11,294.03 650.51,291.83 650.92,289.03 651.32,292.79 651.72,290.45 652.12,291.99 652.52,292.89 652.92,292.42 653.32,293.81 653.72,291.07 654.13,290.8 654.53,292.67 654.93,292.66 655.33,293.94 655.73,293.09 656.13,291.01 656.53,293.63 656.93,293.29 657.34,292 657.74,290.65 658.14,289.87 658.54,291.92 658.94,293.09 659.34,291.77 659.74,292.22 660.14,292.52 660.54,290.82 660.95,289.45 661.35,290.89 661.75,292.09 662.15,291.38 662.55,294.01 662.95,292.86 663.35,293.27 663.75,289.57 664.16,290.03 664.56,291.48 664.96,292.15 665.36,295.11 665.76,292.26 666.16,289.69 666.56,292.13 666.96,291.49 667.37,290.8 667.77,293.53 668.17,291.55 668.57,289.92 668.97,291.09 669.37,291.96 669.77,291.06 670.17,293.49 670.57,292.57 670.98,290.67 671.38,293.01 671.78,291.35 672.18,292.04 672.58,294.69 672.98,293.05 673.38,293.21 673.78,292.04 674.19,293.26 674.59,291.24 674.99,292.4 675.39,291.89 675.79,292.54 676.19,292.64 676.59,290.69 676.99,291.18 677.4,292.36 677.8,293.68 678.2,291.15 678.6,290.57 679,292.05" fill="none" stroke="#ee22b0" stroke-width="0.9" stroke-linejoin="round"/>
<rect x="618.8" y="251.6" width="56.9" height="8.6" fill="#fff" stroke="#8e8e8e" stroke-width="1"/>
<path d="M620.2 255.4h15.5" stroke="#f06ccc" stroke-width="1"/>
<text transform="translate(637 257.6) scale(1 1.06)" font-family='"Liberation Serif", serif' font-size="6.0" font-weight="bold" text-anchor="start" fill="#1a1a1a" stroke="#1a1a1a" stroke-width="0.22">Avrg NRMSE</text>
</svg></body></html>
